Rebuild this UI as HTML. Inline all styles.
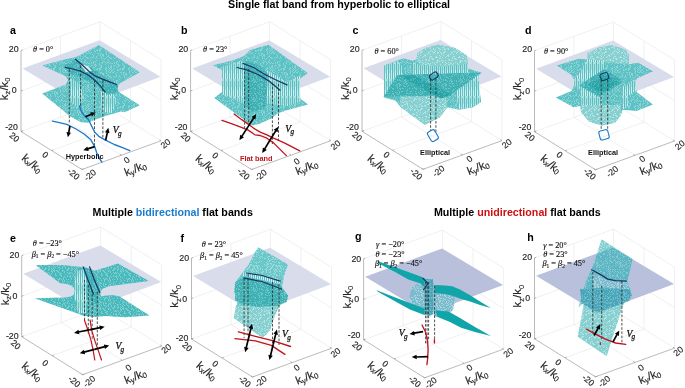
<!DOCTYPE html>
<html><head><meta charset="utf-8"><style>
html,body{margin:0;padding:0;background:#fff;}
svg{display:block;will-change:transform;}
</style></head><body>
<svg width="685" height="388" viewBox="0 0 685 388">
<defs><pattern id="ps" width="23" height="19" patternUnits="userSpaceOnUse"><rect width="23" height="19" fill="#5dc2c5"/><path fill="#8dd3d4" d="M0 0h2v1h-2zM4 0h1v1h-1zM9 0h1v1h-1zM14 0h1v1h-1zM17 0h2v1h-2zM21 0h1v1h-1zM3 1h1v1h-1zM5 1h1v1h-1zM9 1h1v1h-1zM11 1h1v1h-1zM13 1h1v1h-1zM18 1h2v1h-2zM22 1h1v1h-1zM12 2h1v1h-1zM16 2h1v1h-1zM4 3h1v1h-1zM10 3h1v1h-1zM16 3h1v1h-1zM21 3h1v1h-1zM1 4h2v1h-2zM11 4h2v1h-2zM15 4h1v1h-1zM1 5h1v1h-1zM3 5h1v1h-1zM9 5h2v1h-2zM13 5h1v1h-1zM15 5h2v1h-2zM18 5h1v1h-1zM22 5h1v1h-1zM1 6h1v1h-1zM7 6h1v1h-1zM10 6h1v1h-1zM14 6h1v1h-1zM17 6h1v1h-1zM19 6h2v1h-2zM22 6h1v1h-1zM2 7h2v1h-2zM7 7h1v1h-1zM13 7h1v1h-1zM0 8h1v1h-1zM3 8h2v1h-2zM8 8h2v1h-2zM16 8h1v1h-1zM19 8h1v1h-1zM22 8h1v1h-1zM3 9h1v1h-1zM9 9h1v1h-1zM18 9h2v1h-2zM21 9h1v1h-1zM1 10h2v1h-2zM8 10h2v1h-2zM14 10h1v1h-1zM16 10h1v1h-1zM18 10h2v1h-2zM5 11h1v1h-1zM7 11h2v1h-2zM13 11h2v1h-2zM17 11h1v1h-1zM19 11h1v1h-1zM22 11h1v1h-1zM2 12h1v1h-1zM4 12h2v1h-2zM7 12h2v1h-2zM13 12h1v1h-1zM16 12h1v1h-1zM18 12h1v1h-1zM21 12h1v1h-1zM2 13h2v1h-2zM7 13h1v1h-1zM14 13h1v1h-1zM17 13h1v1h-1zM19 13h2v1h-2zM14 14h1v1h-1zM16 14h1v1h-1zM19 14h1v1h-1zM22 14h1v1h-1zM2 15h1v1h-1zM5 15h2v1h-2zM8 15h2v1h-2zM14 15h1v1h-1zM17 15h2v1h-2zM20 15h2v1h-2zM0 16h1v1h-1zM8 16h1v1h-1zM10 16h2v1h-2zM14 16h1v1h-1zM1 17h1v1h-1zM6 17h1v1h-1zM8 17h1v1h-1zM10 17h2v1h-2zM16 17h1v1h-1zM1 18h1v1h-1zM4 18h1v1h-1zM9 18h1v1h-1zM11 18h1v1h-1zM15 18h2v1h-2z"/></pattern><pattern id="pv" width="4" height="17" patternUnits="userSpaceOnUse"><rect width="4" height="17" fill="#aee0e0"/><rect x="0" width="1" height="17" fill="#52bec1"/><rect x="2" width="1" height="11" fill="#63c5c7"/><rect x="2" y="13" width="1" height="4" fill="#63c5c7"/><rect x="1" y="5" width="1" height="6" fill="#d4eeee"/><rect x="3" y="2" width="1" height="9" fill="#d0ecec"/></pattern><pattern id="pd" width="23" height="19" patternUnits="userSpaceOnUse"><rect width="23" height="19" fill="#29a4a8"/><path fill="#4fb6b9" d="M2 0h1v1h-1zM11 0h1v1h-1zM20 0h1v1h-1zM6 1h1v1h-1zM8 1h1v1h-1zM12 1h2v1h-2zM0 2h2v1h-2zM21 2h2v1h-2zM10 3h1v1h-1zM14 3h2v1h-2zM19 3h2v1h-2zM22 3h1v1h-1zM3 4h1v1h-1zM7 4h2v1h-2zM12 4h1v1h-1zM14 4h1v1h-1zM16 4h2v1h-2zM19 4h2v1h-2zM22 4h1v1h-1zM1 5h1v1h-1zM5 5h2v1h-2zM8 5h1v1h-1zM13 5h1v1h-1zM15 5h1v1h-1zM4 6h1v1h-1zM7 6h1v1h-1zM11 6h2v1h-2zM17 6h1v1h-1zM19 6h1v1h-1zM21 6h1v1h-1zM0 7h1v1h-1zM16 7h1v1h-1zM19 7h2v1h-2zM0 8h1v1h-1zM3 8h1v1h-1zM8 8h2v1h-2zM16 8h1v1h-1zM19 8h1v1h-1zM6 9h1v1h-1zM8 9h1v1h-1zM12 9h1v1h-1zM16 9h1v1h-1zM18 9h1v1h-1zM22 9h1v1h-1zM0 10h1v1h-1zM6 10h1v1h-1zM8 10h2v1h-2zM14 10h1v1h-1zM15 11h1v1h-1zM18 11h1v1h-1zM20 11h1v1h-1zM2 12h1v1h-1zM9 12h1v1h-1zM13 12h1v1h-1zM1 13h1v1h-1zM3 13h1v1h-1zM6 13h1v1h-1zM3 14h1v1h-1zM9 14h2v1h-2zM16 14h2v1h-2zM20 14h2v1h-2zM1 15h2v1h-2zM4 15h1v1h-1zM10 15h2v1h-2zM13 15h1v1h-1zM1 16h1v1h-1zM4 16h2v1h-2zM12 16h1v1h-1zM17 16h1v1h-1zM7 17h2v1h-2zM16 17h1v1h-1zM6 18h2v1h-2zM12 18h1v1h-1zM14 18h1v1h-1z"/></pattern><pattern id="pl" width="23" height="19" patternUnits="userSpaceOnUse"><rect width="23" height="19" fill="#86d0d1"/><path fill="#b7e3e3" d="M0 0h1v1h-1zM5 0h1v1h-1zM8 0h1v1h-1zM15 0h1v1h-1zM21 0h2v1h-2zM2 1h2v1h-2zM15 1h1v1h-1zM17 1h2v1h-2zM11 2h2v1h-2zM18 2h2v1h-2zM0 3h2v1h-2zM4 3h2v1h-2zM8 3h1v1h-1zM12 3h1v1h-1zM14 3h2v1h-2zM0 4h1v1h-1zM2 4h1v1h-1zM6 4h1v1h-1zM0 5h1v1h-1zM5 5h1v1h-1zM8 5h1v1h-1zM11 5h1v1h-1zM18 5h1v1h-1zM22 5h1v1h-1zM9 6h1v1h-1zM13 6h2v1h-2zM16 6h1v1h-1zM20 6h1v1h-1zM3 7h1v1h-1zM8 7h1v1h-1zM11 7h2v1h-2zM15 7h1v1h-1zM21 7h1v1h-1zM7 8h1v1h-1zM15 8h2v1h-2zM0 9h1v1h-1zM5 9h2v1h-2zM13 9h2v1h-2zM16 9h1v1h-1zM1 10h2v1h-2zM7 10h1v1h-1zM10 10h2v1h-2zM16 10h1v1h-1zM19 10h1v1h-1zM3 11h1v1h-1zM5 11h1v1h-1zM7 11h2v1h-2zM11 11h1v1h-1zM19 11h1v1h-1zM21 11h1v1h-1zM2 12h1v1h-1zM17 12h1v1h-1zM20 12h1v1h-1zM7 13h2v1h-2zM16 13h1v1h-1zM18 13h1v1h-1zM21 13h1v1h-1zM0 14h2v1h-2zM3 14h1v1h-1zM6 14h2v1h-2zM14 14h2v1h-2zM19 14h2v1h-2zM0 15h1v1h-1zM4 15h1v1h-1zM6 15h1v1h-1zM14 15h1v1h-1zM19 15h1v1h-1zM4 16h1v1h-1zM11 16h1v1h-1zM13 16h1v1h-1zM16 16h1v1h-1zM2 17h1v1h-1zM6 17h1v1h-1zM10 17h2v1h-2zM3 18h1v1h-1zM9 18h1v1h-1zM11 18h1v1h-1zM16 18h2v1h-2zM22 18h1v1h-1z"/></pattern><pattern id="pm" width="23" height="19" patternUnits="userSpaceOnUse"><rect width="23" height="19" fill="#3fb0b4"/><path fill="#6cc5c7" d="M0 0h1v1h-1zM3 0h1v1h-1zM9 0h1v1h-1zM12 0h1v1h-1zM14 0h2v1h-2zM20 0h1v1h-1zM3 1h1v1h-1zM7 1h1v1h-1zM9 1h2v1h-2zM0 2h1v1h-1zM3 2h1v1h-1zM11 2h1v1h-1zM13 2h1v1h-1zM21 2h1v1h-1zM0 3h2v1h-2zM4 3h1v1h-1zM6 3h1v1h-1zM8 3h1v1h-1zM14 3h1v1h-1zM0 4h1v1h-1zM2 4h1v1h-1zM6 4h1v1h-1zM8 4h2v1h-2zM13 4h2v1h-2zM17 4h1v1h-1zM19 4h1v1h-1zM22 4h1v1h-1zM1 5h2v1h-2zM4 5h1v1h-1zM10 5h1v1h-1zM12 5h1v1h-1zM14 5h2v1h-2zM19 5h1v1h-1zM21 5h1v1h-1zM0 6h2v1h-2zM3 6h1v1h-1zM14 6h1v1h-1zM7 7h2v1h-2zM12 7h2v1h-2zM15 7h2v1h-2zM19 7h1v1h-1zM2 8h1v1h-1zM5 8h2v1h-2zM8 8h2v1h-2zM15 8h1v1h-1zM22 8h1v1h-1zM4 9h1v1h-1zM8 9h2v1h-2zM12 9h1v1h-1zM17 9h1v1h-1zM20 9h1v1h-1zM5 10h2v1h-2zM8 10h1v1h-1zM13 10h2v1h-2zM16 10h1v1h-1zM0 11h1v1h-1zM6 11h1v1h-1zM1 12h2v1h-2zM6 12h1v1h-1zM8 12h2v1h-2zM11 12h2v1h-2zM18 12h1v1h-1zM21 12h1v1h-1zM2 13h1v1h-1zM9 13h1v1h-1zM16 13h1v1h-1zM6 14h1v1h-1zM16 14h1v1h-1zM1 15h1v1h-1zM8 15h1v1h-1zM10 15h2v1h-2zM15 15h1v1h-1zM19 15h2v1h-2zM4 16h1v1h-1zM6 16h1v1h-1zM8 16h1v1h-1zM1 17h2v1h-2zM5 17h1v1h-1zM8 17h1v1h-1zM15 17h2v1h-2zM18 17h2v1h-2zM21 17h1v1h-1zM2 18h1v1h-1zM6 18h2v1h-2zM17 18h1v1h-1z"/></pattern><pattern id="pb" width="23" height="19" patternUnits="userSpaceOnUse"><rect width="23" height="19" fill="#78bccd"/><path fill="#aed3df" d="M6 0h1v1h-1zM11 0h1v1h-1zM13 0h1v1h-1zM16 0h1v1h-1zM18 0h2v1h-2zM22 0h1v1h-1zM0 1h1v1h-1zM2 1h1v1h-1zM5 1h1v1h-1zM9 1h2v1h-2zM14 1h2v1h-2zM20 1h1v1h-1zM22 1h1v1h-1zM0 2h1v1h-1zM3 2h1v1h-1zM12 2h2v1h-2zM15 2h2v1h-2zM19 2h2v1h-2zM1 3h1v1h-1zM3 3h2v1h-2zM6 3h2v1h-2zM15 3h2v1h-2zM20 3h2v1h-2zM0 4h1v1h-1zM9 4h1v1h-1zM11 4h1v1h-1zM14 4h1v1h-1zM19 4h1v1h-1zM1 5h2v1h-2zM4 5h1v1h-1zM7 5h2v1h-2zM13 5h1v1h-1zM15 5h2v1h-2zM18 5h1v1h-1zM4 6h1v1h-1zM6 6h1v1h-1zM13 6h1v1h-1zM2 7h1v1h-1zM6 7h2v1h-2zM11 7h1v1h-1zM13 7h1v1h-1zM8 8h2v1h-2zM16 8h2v1h-2zM3 9h1v1h-1zM7 9h1v1h-1zM10 9h1v1h-1zM12 9h1v1h-1zM14 9h1v1h-1zM16 9h1v1h-1zM18 9h1v1h-1zM0 10h2v1h-2zM3 10h1v1h-1zM5 10h1v1h-1zM7 10h2v1h-2zM11 10h1v1h-1zM13 10h1v1h-1zM0 11h1v1h-1zM8 11h1v1h-1zM12 11h1v1h-1zM17 11h1v1h-1zM1 12h2v1h-2zM9 12h1v1h-1zM11 12h1v1h-1zM14 12h2v1h-2zM18 12h1v1h-1zM20 12h2v1h-2zM1 13h1v1h-1zM3 13h2v1h-2zM6 13h1v1h-1zM12 13h2v1h-2zM18 13h1v1h-1zM1 14h1v1h-1zM7 14h2v1h-2zM19 14h1v1h-1zM22 14h1v1h-1zM2 15h2v1h-2zM6 15h1v1h-1zM11 15h1v1h-1zM14 15h1v1h-1zM19 15h2v1h-2zM2 16h2v1h-2zM5 16h1v1h-1zM9 16h1v1h-1zM12 16h1v1h-1zM15 16h1v1h-1zM17 16h1v1h-1zM20 16h1v1h-1zM2 17h1v1h-1zM9 17h1v1h-1zM11 17h1v1h-1zM17 17h1v1h-1zM19 17h2v1h-2zM0 18h1v1h-1zM4 18h2v1h-2zM8 18h1v1h-1zM10 18h1v1h-1zM13 18h2v1h-2zM19 18h2v1h-2zM22 18h1v1h-1z"/></pattern><pattern id="pbd" width="23" height="19" patternUnits="userSpaceOnUse"><rect width="23" height="19" fill="#4aa6ba"/><path fill="#76bccb" d="M4 0h1v1h-1zM16 0h1v1h-1zM1 1h2v1h-2zM6 1h1v1h-1zM12 1h1v1h-1zM22 1h1v1h-1zM3 2h2v1h-2zM7 2h1v1h-1zM10 2h1v1h-1zM12 2h1v1h-1zM16 2h2v1h-2zM19 2h1v1h-1zM3 3h2v1h-2zM6 3h1v1h-1zM11 3h2v1h-2zM1 4h2v1h-2zM7 4h1v1h-1zM9 4h1v1h-1zM12 4h1v1h-1zM15 4h1v1h-1zM22 4h1v1h-1zM14 5h1v1h-1zM16 5h1v1h-1zM19 5h2v1h-2zM2 6h1v1h-1zM11 6h1v1h-1zM13 6h1v1h-1zM16 6h1v1h-1zM18 6h1v1h-1zM2 7h2v1h-2zM5 7h1v1h-1zM13 7h2v1h-2zM22 7h1v1h-1zM3 8h2v1h-2zM10 8h1v1h-1zM15 8h1v1h-1zM18 8h2v1h-2zM2 9h2v1h-2zM5 9h1v1h-1zM9 9h1v1h-1zM12 9h1v1h-1zM14 9h1v1h-1zM16 9h1v1h-1zM19 9h1v1h-1zM1 10h1v1h-1zM3 10h1v1h-1zM7 10h1v1h-1zM21 10h1v1h-1zM1 11h1v1h-1zM4 11h2v1h-2zM7 11h1v1h-1zM9 11h1v1h-1zM12 11h1v1h-1zM19 11h1v1h-1zM21 11h1v1h-1zM1 12h2v1h-2zM10 12h2v1h-2zM15 12h1v1h-1zM17 12h2v1h-2zM2 13h1v1h-1zM4 13h1v1h-1zM6 13h2v1h-2zM9 13h2v1h-2zM15 13h1v1h-1zM17 13h1v1h-1zM19 13h2v1h-2zM22 13h1v1h-1zM1 14h1v1h-1zM3 14h2v1h-2zM12 14h2v1h-2zM15 14h1v1h-1zM22 14h1v1h-1zM8 15h2v1h-2zM14 15h1v1h-1zM19 15h1v1h-1zM21 15h1v1h-1zM2 16h1v1h-1zM4 16h2v1h-2zM20 16h1v1h-1zM22 16h1v1h-1zM1 17h1v1h-1zM3 17h1v1h-1zM6 17h2v1h-2zM10 17h1v1h-1zM12 17h2v1h-2zM16 17h1v1h-1zM22 17h1v1h-1zM8 18h2v1h-2zM11 18h2v1h-2zM15 18h1v1h-1zM20 18h2v1h-2z"/></pattern><pattern id="pho" width="23" height="19" patternUnits="userSpaceOnUse"><rect width="23" height="19" fill="#5db6c4"/><path fill="#86c8d2" d="M1 0h1v1h-1zM3 0h1v1h-1zM6 0h1v1h-1zM8 0h1v1h-1zM10 0h1v1h-1zM14 0h1v1h-1zM21 0h2v1h-2zM1 1h1v1h-1zM5 1h1v1h-1zM10 1h1v1h-1zM12 1h1v1h-1zM21 1h1v1h-1zM5 2h1v1h-1zM8 2h1v1h-1zM10 2h1v1h-1zM1 3h2v1h-2zM10 3h1v1h-1zM12 3h1v1h-1zM14 3h2v1h-2zM17 3h1v1h-1zM21 3h1v1h-1zM9 4h1v1h-1zM11 4h1v1h-1zM16 4h1v1h-1zM2 5h2v1h-2zM10 5h1v1h-1zM12 5h1v1h-1zM14 5h1v1h-1zM17 5h1v1h-1zM19 5h1v1h-1zM22 5h1v1h-1zM1 6h1v1h-1zM5 6h2v1h-2zM11 6h1v1h-1zM16 6h1v1h-1zM20 6h1v1h-1zM22 6h1v1h-1zM5 7h2v1h-2zM11 7h2v1h-2zM19 7h1v1h-1zM22 7h1v1h-1zM1 8h1v1h-1zM9 8h1v1h-1zM11 8h1v1h-1zM19 8h1v1h-1zM2 9h2v1h-2zM12 9h1v1h-1zM14 9h2v1h-2zM18 9h2v1h-2zM2 10h1v1h-1zM11 10h1v1h-1zM14 10h1v1h-1zM16 10h1v1h-1zM18 10h2v1h-2zM7 11h1v1h-1zM9 11h1v1h-1zM12 11h1v1h-1zM20 11h1v1h-1zM22 11h1v1h-1zM17 12h1v1h-1zM21 12h1v1h-1zM1 13h1v1h-1zM3 13h1v1h-1zM7 13h2v1h-2zM11 13h2v1h-2zM15 13h2v1h-2zM22 13h1v1h-1zM2 14h1v1h-1zM5 14h1v1h-1zM8 14h1v1h-1zM12 14h2v1h-2zM17 14h1v1h-1zM19 14h2v1h-2zM0 15h1v1h-1zM4 15h1v1h-1zM9 15h1v1h-1zM13 15h2v1h-2zM18 15h2v1h-2zM21 15h2v1h-2zM5 16h1v1h-1zM7 16h1v1h-1zM9 16h1v1h-1zM11 16h1v1h-1zM17 16h1v1h-1zM19 16h1v1h-1zM21 16h2v1h-2zM1 17h1v1h-1zM4 17h2v1h-2zM20 17h1v1h-1zM22 17h1v1h-1zM0 18h1v1h-1zM2 18h2v1h-2zM8 18h1v1h-1zM11 18h1v1h-1zM17 18h2v1h-2zM22 18h1v1h-1z"/></pattern><pattern id="psl" width="23" height="19" patternUnits="userSpaceOnUse"><rect width="23" height="19" fill="#6bc8ca"/><path fill="#9fdadb" d="M0 0h2v1h-2zM3 0h2v1h-2zM6 0h1v1h-1zM9 0h1v1h-1zM14 0h2v1h-2zM17 0h1v1h-1zM19 0h1v1h-1zM1 1h1v1h-1zM4 1h1v1h-1zM14 1h1v1h-1zM18 1h2v1h-2zM1 2h1v1h-1zM4 2h2v1h-2zM7 2h1v1h-1zM13 2h1v1h-1zM17 2h2v1h-2zM22 2h1v1h-1zM0 3h1v1h-1zM2 3h1v1h-1zM7 3h1v1h-1zM9 3h1v1h-1zM12 3h2v1h-2zM16 3h2v1h-2zM20 3h1v1h-1zM22 3h1v1h-1zM3 4h1v1h-1zM5 4h1v1h-1zM13 4h1v1h-1zM15 4h1v1h-1zM21 4h2v1h-2zM0 5h2v1h-2zM3 5h2v1h-2zM9 5h2v1h-2zM13 5h1v1h-1zM17 5h1v1h-1zM21 5h1v1h-1zM5 6h1v1h-1zM8 6h2v1h-2zM13 6h1v1h-1zM16 6h2v1h-2zM22 6h1v1h-1zM3 7h1v1h-1zM9 7h1v1h-1zM20 7h2v1h-2zM0 8h1v1h-1zM5 8h1v1h-1zM18 8h1v1h-1zM21 8h1v1h-1zM0 9h2v1h-2zM3 9h1v1h-1zM7 9h2v1h-2zM15 9h2v1h-2zM6 10h1v1h-1zM9 10h1v1h-1zM14 10h1v1h-1zM19 10h2v1h-2zM7 11h1v1h-1zM11 11h2v1h-2zM15 11h1v1h-1zM20 11h1v1h-1zM22 11h1v1h-1zM1 12h1v1h-1zM15 12h1v1h-1zM18 12h2v1h-2zM21 12h2v1h-2zM16 13h2v1h-2zM0 14h1v1h-1zM6 14h1v1h-1zM8 14h1v1h-1zM14 14h1v1h-1zM16 14h1v1h-1zM19 14h2v1h-2zM2 15h2v1h-2zM5 15h1v1h-1zM13 15h1v1h-1zM21 15h1v1h-1zM3 16h1v1h-1zM14 16h2v1h-2zM17 16h2v1h-2zM11 17h1v1h-1zM14 17h2v1h-2zM18 17h1v1h-1zM20 17h2v1h-2zM0 18h1v1h-1zM2 18h2v1h-2zM5 18h1v1h-1zM12 18h2v1h-2zM19 18h2v1h-2zM22 18h1v1h-1z"/></pattern><pattern id="pse" width="23" height="19" patternUnits="userSpaceOnUse"><rect width="23" height="19" fill="#48b9bc"/><path fill="#80cdce" d="M2 0h2v1h-2zM5 0h1v1h-1zM8 0h1v1h-1zM11 0h1v1h-1zM16 0h1v1h-1zM18 0h1v1h-1zM2 1h1v1h-1zM7 1h1v1h-1zM9 1h1v1h-1zM12 1h2v1h-2zM16 1h1v1h-1zM19 1h1v1h-1zM22 1h1v1h-1zM0 2h1v1h-1zM3 2h1v1h-1zM5 2h1v1h-1zM7 2h1v1h-1zM14 2h1v1h-1zM16 2h1v1h-1zM19 2h1v1h-1zM22 2h1v1h-1zM2 3h2v1h-2zM6 3h1v1h-1zM8 3h1v1h-1zM13 3h1v1h-1zM21 3h2v1h-2zM2 4h1v1h-1zM5 4h1v1h-1zM7 4h2v1h-2zM10 4h2v1h-2zM16 4h2v1h-2zM20 4h2v1h-2zM5 5h2v1h-2zM8 5h1v1h-1zM11 5h2v1h-2zM16 5h1v1h-1zM18 5h1v1h-1zM0 6h1v1h-1zM2 6h1v1h-1zM6 6h1v1h-1zM12 6h2v1h-2zM18 6h1v1h-1zM21 6h1v1h-1zM0 7h2v1h-2zM3 7h1v1h-1zM5 7h1v1h-1zM9 7h1v1h-1zM14 7h2v1h-2zM22 7h1v1h-1zM4 8h1v1h-1zM9 8h1v1h-1zM13 8h2v1h-2zM19 8h1v1h-1zM1 9h1v1h-1zM4 9h1v1h-1zM9 9h2v1h-2zM14 9h2v1h-2zM21 9h1v1h-1zM0 10h2v1h-2zM3 10h1v1h-1zM5 10h1v1h-1zM15 10h1v1h-1zM18 10h1v1h-1zM21 10h1v1h-1zM1 11h1v1h-1zM5 11h1v1h-1zM7 11h1v1h-1zM17 11h1v1h-1zM19 11h1v1h-1zM2 12h1v1h-1zM8 12h1v1h-1zM11 12h1v1h-1zM13 12h2v1h-2zM17 12h1v1h-1zM2 13h1v1h-1zM5 13h1v1h-1zM12 13h2v1h-2zM15 13h1v1h-1zM17 13h1v1h-1zM20 13h1v1h-1zM22 13h1v1h-1zM6 14h1v1h-1zM9 14h1v1h-1zM12 14h1v1h-1zM16 14h1v1h-1zM18 14h1v1h-1zM1 15h1v1h-1zM5 15h1v1h-1zM12 15h1v1h-1zM16 15h1v1h-1zM18 15h1v1h-1zM21 15h1v1h-1zM7 16h2v1h-2zM17 16h1v1h-1zM22 16h1v1h-1zM4 17h1v1h-1zM8 17h2v1h-2zM11 17h1v1h-1zM13 17h1v1h-1zM19 17h1v1h-1zM21 17h1v1h-1zM0 18h1v1h-1zM7 18h1v1h-1zM11 18h1v1h-1zM13 18h2v1h-2zM17 18h2v1h-2zM21 18h1v1h-1z"/></pattern></defs>
<text x="228" y="7.9" font-family="Liberation Sans, sans-serif" font-weight="bold" font-size="10.7" fill="#000">Single flat band from hyperbolic to elliptical</text>
<text x="92.5" y="216.2" font-family="Liberation Sans, sans-serif" font-weight="bold" font-size="10.7" fill="#000">Multiple <tspan fill="#1a7ccc">bidirectional</tspan> flat bands</text>
<text x="433.9" y="216.2" font-family="Liberation Sans, sans-serif" font-weight="bold" font-size="10.7" fill="#000">Multiple <tspan fill="#cc1111">unidirectional</tspan> flat bands</text>
<g id="pa">
<line x1="21.0" y1="50.5" x2="100.0" y2="21.8" stroke="#e6e6ec" stroke-width="0.6" />
<line x1="21.0" y1="91.0" x2="100.0" y2="62.3" stroke="#e6e6ec" stroke-width="0.6" />
<line x1="60.5" y1="117.2" x2="60.5" y2="36.2" stroke="#e6e6ec" stroke-width="0.6" />
<line x1="100.0" y1="102.8" x2="100.0" y2="21.8" stroke="#e6e6ec" stroke-width="0.6" />
<line x1="100.0" y1="21.8" x2="161.0" y2="59.8" stroke="#e6e6ec" stroke-width="0.6" />
<line x1="100.0" y1="62.3" x2="161.0" y2="100.3" stroke="#e6e6ec" stroke-width="0.6" />
<line x1="130.5" y1="121.8" x2="130.5" y2="40.8" stroke="#e6e6ec" stroke-width="0.6" />
<line x1="161.0" y1="140.8" x2="161.0" y2="59.8" stroke="#e6e6ec" stroke-width="0.6" />
<line x1="100.0" y1="102.8" x2="161.0" y2="140.8" stroke="#e6e6ec" stroke-width="0.6" />
<line x1="100.0" y1="102.8" x2="21.0" y2="131.5" stroke="#e6e6ec" stroke-width="0.6" />
<line x1="51.5" y1="150.5" x2="130.5" y2="121.8" stroke="#e6e6ec" stroke-width="0.6" />
<line x1="60.5" y1="117.2" x2="121.5" y2="155.2" stroke="#e6e6ec" stroke-width="0.6" />
<line x1="21.0" y1="131.5" x2="22.7" y2="130.9" stroke="#8c8c8c" stroke-width="0.6" />
<line x1="21.0" y1="91.0" x2="22.7" y2="90.4" stroke="#8c8c8c" stroke-width="0.6" />
<line x1="21.0" y1="50.5" x2="22.7" y2="49.9" stroke="#8c8c8c" stroke-width="0.6" />
<line x1="82.0" y1="169.5" x2="83.7" y2="168.9" stroke="#8c8c8c" stroke-width="0.6" />
<line x1="51.5" y1="150.5" x2="53.2" y2="149.9" stroke="#8c8c8c" stroke-width="0.6" />
<line x1="21.0" y1="131.5" x2="22.7" y2="130.9" stroke="#8c8c8c" stroke-width="0.6" />
<line x1="82.0" y1="169.5" x2="80.5" y2="168.5" stroke="#8c8c8c" stroke-width="0.6" />
<line x1="121.5" y1="155.2" x2="120.0" y2="154.2" stroke="#8c8c8c" stroke-width="0.6" />
<line x1="161.0" y1="140.8" x2="159.5" y2="139.8" stroke="#8c8c8c" stroke-width="0.6" />
<line x1="21.0" y1="131.5" x2="21.0" y2="50.5" stroke="#8c8c8c" stroke-width="0.6" />
<line x1="21.0" y1="131.5" x2="82.0" y2="169.5" stroke="#8c8c8c" stroke-width="0.6" />
<line x1="82.0" y1="169.5" x2="161.0" y2="140.8" stroke="#8c8c8c" stroke-width="0.6" />
<polygon points="22.6,68.5 99.5,40.2 160.5,76.8 84.0,105.5" fill="#d9dcea" />
<polygon points="42.2,65.4 65.4,59.3 76.0,57.0 99.0,45.0 139.8,72.3 120.0,83.2 117.0,88.0 117.8,91.3 139.8,105.2 124.8,112.2 120.8,111.5 106.3,115.7 95.5,119.4 88.0,122.8 81.1,122.2 70.3,116.6 42.2,93.6 65.8,84.4 68.0,80.0 65.8,76.2" fill="url(#ps)" />
<polygon points="70.0,78.0 80.0,84.0 84.0,98.0 78.0,108.0 70.0,100.0" fill="url(#pv)" />
<polygon points="100.0,92.0 112.0,92.0 117.0,100.0 112.0,113.0 102.0,112.0" fill="url(#pv)" />
<polygon points="64.0,66.0 75.0,59.0 92.0,68.0 105.0,77.0 118.0,85.0 118.0,92.0 108.0,95.0 96.0,86.0 82.0,78.0 70.0,74.0" fill="url(#pm)" />
<polygon points="80.0,64.0 88.0,66.0 92.0,71.0 86.0,72.0" fill="#d8eeee" />
<polyline points="65.1,67.4 72.9,69.0 80.6,71.2 88.3,75.1 94.7,80.2 99.9,85.4 105.0,91.8" fill="none" stroke="#1d3566" stroke-width="1.25" stroke-linejoin="round" stroke-linecap="round" />
<polyline points="75.4,59.3 81.9,64.8 89.6,71.9 96.0,76.4 103.8,79.6 110.2,82.2 116.6,84.5" fill="none" stroke="#1d3566" stroke-width="1.25" stroke-linejoin="round" stroke-linecap="round" />
<line x1="69.3" y1="69.3" x2="69.3" y2="124.0" stroke="#303030" stroke-width="0.85" stroke-dasharray="2.6 1.6"/>
<line x1="80.6" y1="65.4" x2="80.6" y2="108.0" stroke="#303030" stroke-width="0.85" stroke-dasharray="2.6 1.6"/>
<line x1="94.5" y1="80.2" x2="94.5" y2="146.0" stroke="#303030" stroke-width="0.85" stroke-dasharray="2.6 1.6"/>
<line x1="102.9" y1="80.2" x2="102.9" y2="138.0" stroke="#303030" stroke-width="0.85" stroke-dasharray="2.6 1.6"/>
<polyline points="52.4,121.2 60.6,122.9 66.8,124.3 76.1,129.0 84.4,134.2 90.6,139.4 94.7,146.6 96.7,152.8 99.8,159.0 101.9,162.1" fill="none" stroke="#1f78c8" stroke-width="1.35" stroke-linejoin="round" stroke-linecap="round" />
<polyline points="79.6,106.0 81.3,111.5 84.4,115.6 88.5,119.8 91.6,126.0 94.7,132.1 98.8,136.3 106.0,140.4 114.3,144.5 122.5,147.6 129.8,150.7" fill="none" stroke="#1f78c8" stroke-width="1.35" stroke-linejoin="round" stroke-linecap="round" />
<line x1="69.9" y1="126.0" x2="68.7" y2="132.9" stroke="#000" stroke-width="1.7" /><polygon points="67.9,137.3 66.5,132.0 71.0,132.8" fill="#000" />
<line x1="85.4" y1="116.7" x2="91.5" y2="114.2" stroke="#000" stroke-width="1.7" /><polygon points="95.7,112.5 91.9,116.5 90.2,112.3" fill="#000" />
<line x1="94.7" y1="146.6" x2="87.6" y2="148.9" stroke="#000" stroke-width="1.7" /><polygon points="83.3,150.3 87.3,146.6 88.8,150.9" fill="#000" />
<line x1="105.6" y1="140.4" x2="107.4" y2="132.2" stroke="#000" stroke-width="1.7" /><polygon points="108.3,127.8 109.5,133.2 105.0,132.2" fill="#000" />
<text x="112.8" y="133.2" font-family="Liberation Serif, serif" font-style="italic" font-size="9.6" fill="#111" stroke="#111" stroke-width="0.25">V<tspan font-size="7.2" dx="-0.8" dy="2.4">g</tspan></text>
<text x="65.7" y="159" transform="translate(65.7 159) scale(0.93 1) translate(-65.7 -159)" font-family="Liberation Sans, sans-serif" font-weight="bold" font-size="7.9" fill="#111">Hyperbolic</text>
<text x="33" y="52.3" transform="translate(33 52.3) scale(0.92 1) translate(-33 -52.3)" font-family="Liberation Serif, serif" font-size="9" fill="#111" stroke="#111" stroke-width="0.15"><tspan font-style="italic">θ</tspan> = 0°</text>
<text x="18.6" y="52.2" text-anchor="end" fill="#262626" stroke="#262626" stroke-width="0.15" font-family="Liberation Sans, sans-serif" font-size="8.8">20</text>
<text x="16.6" y="93.4" text-anchor="end" fill="#262626" stroke="#262626" stroke-width="0.15" font-family="Liberation Sans, sans-serif" font-size="8.8">0</text>
<text x="17.9" y="130.2" text-anchor="end" fill="#262626" stroke="#262626" stroke-width="0.15" font-family="Liberation Sans, sans-serif" font-size="8.8">-20</text>
<text transform="translate(7.9,88.8) rotate(-90)" text-anchor="middle" fill="#262626" stroke="#262626" stroke-width="0.15" font-family="Liberation Sans, sans-serif" font-size="11.4">k<tspan font-size="7.7" dy="2.3">z</tspan><tspan dy="-2.3">/k</tspan><tspan font-size="7.7" dy="2.3">0</tspan></text>
<text transform="translate(14.5,137.1) rotate(40)" text-anchor="middle" dominant-baseline="central" fill="#262626" stroke="#262626" stroke-width="0.15" font-family="Liberation Sans, sans-serif" font-size="8.8">20</text>
<text transform="translate(45.3,154.8) rotate(40)" text-anchor="middle" dominant-baseline="central" fill="#262626" stroke="#262626" stroke-width="0.15" font-family="Liberation Sans, sans-serif" font-size="8.8">0</text>
<text transform="translate(73.6,173.9) rotate(40)" text-anchor="middle" dominant-baseline="central" fill="#262626" stroke="#262626" stroke-width="0.15" font-family="Liberation Sans, sans-serif" font-size="8.8">-20</text>
<text transform="translate(90.0,175.2) rotate(-40)" text-anchor="middle" dominant-baseline="central" fill="#262626" stroke="#262626" stroke-width="0.15" font-family="Liberation Sans, sans-serif" font-size="8.8">-20</text>
<text transform="translate(126.8,160.1) rotate(-40)" text-anchor="middle" dominant-baseline="central" fill="#262626" stroke="#262626" stroke-width="0.15" font-family="Liberation Sans, sans-serif" font-size="8.8">0</text>
<text transform="translate(165.5,143.6) rotate(-40)" text-anchor="middle" dominant-baseline="central" fill="#262626" stroke="#262626" stroke-width="0.15" font-family="Liberation Sans, sans-serif" font-size="8.8">20</text>
<text transform="translate(32.2,163.4) rotate(40)" text-anchor="middle" dominant-baseline="central" fill="#262626" stroke="#262626" stroke-width="0.15" font-family="Liberation Sans, sans-serif" font-size="11.4">k<tspan font-size="7.7" dy="2.3">x</tspan><tspan dy="-2.3">/k</tspan><tspan font-size="7.7" dy="2.3">0</tspan></text>
<text transform="translate(135.3,168.6) rotate(-22)" text-anchor="middle" dominant-baseline="central" fill="#262626" stroke="#262626" stroke-width="0.15" font-family="Liberation Sans, sans-serif" font-size="11.4">k<tspan font-size="7.7" dy="2.3">y</tspan><tspan dy="-2.3">/k</tspan><tspan font-size="7.7" dy="2.3">0</tspan></text>
<text x="10.1" y="33.6" font-family="Liberation Sans, sans-serif" font-weight="bold" font-size="10.7" fill="#000">a</text>
</g>
<g id="pb">
<line x1="190.6" y1="50.5" x2="269.6" y2="21.8" stroke="#e6e6ec" stroke-width="0.6" />
<line x1="190.6" y1="91.0" x2="269.6" y2="62.3" stroke="#e6e6ec" stroke-width="0.6" />
<line x1="230.1" y1="117.2" x2="230.1" y2="36.2" stroke="#e6e6ec" stroke-width="0.6" />
<line x1="269.6" y1="102.8" x2="269.6" y2="21.8" stroke="#e6e6ec" stroke-width="0.6" />
<line x1="269.6" y1="21.8" x2="330.6" y2="59.8" stroke="#e6e6ec" stroke-width="0.6" />
<line x1="269.6" y1="62.3" x2="330.6" y2="100.3" stroke="#e6e6ec" stroke-width="0.6" />
<line x1="300.1" y1="121.8" x2="300.1" y2="40.8" stroke="#e6e6ec" stroke-width="0.6" />
<line x1="330.6" y1="140.8" x2="330.6" y2="59.8" stroke="#e6e6ec" stroke-width="0.6" />
<line x1="269.6" y1="102.8" x2="330.6" y2="140.8" stroke="#e6e6ec" stroke-width="0.6" />
<line x1="269.6" y1="102.8" x2="190.6" y2="131.5" stroke="#e6e6ec" stroke-width="0.6" />
<line x1="221.1" y1="150.5" x2="300.1" y2="121.8" stroke="#e6e6ec" stroke-width="0.6" />
<line x1="230.1" y1="117.2" x2="291.1" y2="155.2" stroke="#e6e6ec" stroke-width="0.6" />
<line x1="190.6" y1="131.5" x2="192.3" y2="130.9" stroke="#8c8c8c" stroke-width="0.6" />
<line x1="190.6" y1="91.0" x2="192.3" y2="90.4" stroke="#8c8c8c" stroke-width="0.6" />
<line x1="190.6" y1="50.5" x2="192.3" y2="49.9" stroke="#8c8c8c" stroke-width="0.6" />
<line x1="251.6" y1="169.5" x2="253.3" y2="168.9" stroke="#8c8c8c" stroke-width="0.6" />
<line x1="221.1" y1="150.5" x2="222.8" y2="149.9" stroke="#8c8c8c" stroke-width="0.6" />
<line x1="190.6" y1="131.5" x2="192.3" y2="130.9" stroke="#8c8c8c" stroke-width="0.6" />
<line x1="251.6" y1="169.5" x2="250.1" y2="168.5" stroke="#8c8c8c" stroke-width="0.6" />
<line x1="291.1" y1="155.2" x2="289.6" y2="154.2" stroke="#8c8c8c" stroke-width="0.6" />
<line x1="330.6" y1="140.8" x2="329.1" y2="139.8" stroke="#8c8c8c" stroke-width="0.6" />
<line x1="190.6" y1="131.5" x2="190.6" y2="50.5" stroke="#8c8c8c" stroke-width="0.6" />
<line x1="190.6" y1="131.5" x2="251.6" y2="169.5" stroke="#8c8c8c" stroke-width="0.6" />
<line x1="251.6" y1="169.5" x2="330.6" y2="140.8" stroke="#8c8c8c" stroke-width="0.6" />
<polygon points="192.2,68.5 269.1,40.2 330.1,76.8 253.6,105.5" fill="#d9dcea" />
<polygon points="212.8,65.2 232.5,60.5 244.1,55.9 250.0,50.0 268.5,44.7 307.9,73.3 297.5,80.3 296.0,95.0 307.9,104.6 285.0,110.8 277.6,113.4 270.9,118.7 260.2,123.4 253.5,125.4 248.2,123.4 242.8,118.7 228.0,108.0 214.2,97.9 222.0,92.0 222.0,70.0" fill="url(#ps)" />
<polygon points="222.0,67.0 240.0,61.0 244.0,63.0 244.0,104.0 222.0,94.0" fill="url(#pv)" />
<polygon points="262.0,68.0 275.0,75.0 287.0,82.0 300.0,76.0 300.0,102.0 287.0,106.0 262.0,103.0" fill="url(#pv)" />
<polygon points="244.0,61.0 252.0,62.0 262.0,67.0 268.0,74.0 266.0,108.0 252.0,112.0 244.0,105.0" fill="url(#pm)" />
<polyline points="237.1,67.5 246.4,69.8 258.0,74.5 269.6,81.4 280.1,90.2" fill="none" stroke="#1d3566" stroke-width="1.25" stroke-linejoin="round" stroke-linecap="round" />
<polyline points="242.9,63.3 253.4,67.5 265.0,74.5 276.6,80.3 287.0,84.9" fill="none" stroke="#1d3566" stroke-width="1.25" stroke-linejoin="round" stroke-linecap="round" />
<line x1="244.6" y1="67.5" x2="244.6" y2="130.0" stroke="#303030" stroke-width="0.85" stroke-dasharray="2.6 1.6"/>
<line x1="248.7" y1="69.0" x2="248.7" y2="124.0" stroke="#303030" stroke-width="0.85" stroke-dasharray="2.6 1.6"/>
<line x1="272.4" y1="82.6" x2="272.4" y2="145.0" stroke="#303030" stroke-width="0.85" stroke-dasharray="2.6 1.6"/>
<line x1="278.5" y1="84.0" x2="278.5" y2="141.0" stroke="#303030" stroke-width="0.85" stroke-dasharray="2.6 1.6"/>
<polyline points="234.1,114.0 241.4,119.4 248.2,124.1 253.5,128.1 260.2,132.1 266.9,134.8 273.6,138.2 284.3,142.9 299.8,150.9" fill="none" stroke="#c0141c" stroke-width="1.3" stroke-linejoin="round" stroke-linecap="round" />
<polyline points="222.0,120.3 230.7,123.4 240.1,126.8 248.2,130.1 254.9,134.8 260.2,135.5 266.9,138.2 273.6,142.9 280.3,149.6 286.4,155.6" fill="none" stroke="#c0141c" stroke-width="1.3" stroke-linejoin="round" stroke-linecap="round" />
<line x1="247.8" y1="127.1" x2="253.8" y2="117.8" stroke="#000" stroke-width="1.7" /><polygon points="256.2,114.0 255.4,119.5 251.6,117.0" fill="#000" />
<line x1="247.8" y1="127.1" x2="241.8" y2="136.4" stroke="#000" stroke-width="1.7" /><polygon points="239.4,140.2 240.2,134.7 244.0,137.2" fill="#000" />
<line x1="270.2" y1="139.8" x2="275.9" y2="130.6" stroke="#000" stroke-width="1.7" /><polygon points="278.3,126.8 277.6,132.3 273.7,129.8" fill="#000" />
<line x1="270.2" y1="139.8" x2="264.6" y2="149.1" stroke="#000" stroke-width="1.7" /><polygon points="262.2,152.9 262.9,147.4 266.8,149.9" fill="#000" />
<text x="285.3" y="131.9" font-family="Liberation Serif, serif" font-style="italic" font-size="9.6" fill="#111" stroke="#111" stroke-width="0.25">V<tspan font-size="7.2" dx="-0.8" dy="2.4">g</tspan></text>
<text x="240" y="160.8" transform="translate(240 160.8) scale(0.93 1) translate(-240 -160.8)" font-family="Liberation Sans, sans-serif" font-weight="bold" font-size="7.9" fill="#c0141c">Flat band</text>
<text x="203" y="52.3" transform="translate(203 52.3) scale(0.92 1) translate(-203 -52.3)" font-family="Liberation Serif, serif" font-size="9" fill="#111" stroke="#111" stroke-width="0.15"><tspan font-style="italic">θ</tspan> = 23°</text>
<text x="188.2" y="52.2" text-anchor="end" fill="#262626" stroke="#262626" stroke-width="0.15" font-family="Liberation Sans, sans-serif" font-size="8.8">20</text>
<text x="186.2" y="93.4" text-anchor="end" fill="#262626" stroke="#262626" stroke-width="0.15" font-family="Liberation Sans, sans-serif" font-size="8.8">0</text>
<text x="187.5" y="130.2" text-anchor="end" fill="#262626" stroke="#262626" stroke-width="0.15" font-family="Liberation Sans, sans-serif" font-size="8.8">-20</text>
<text transform="translate(177.5,88.8) rotate(-90)" text-anchor="middle" fill="#262626" stroke="#262626" stroke-width="0.15" font-family="Liberation Sans, sans-serif" font-size="11.4">k<tspan font-size="7.7" dy="2.3">z</tspan><tspan dy="-2.3">/k</tspan><tspan font-size="7.7" dy="2.3">0</tspan></text>
<text transform="translate(185.8,137.1) rotate(40)" text-anchor="middle" dominant-baseline="central" fill="#262626" stroke="#262626" stroke-width="0.15" font-family="Liberation Sans, sans-serif" font-size="8.8">20</text>
<text transform="translate(215.3,155.5) rotate(40)" text-anchor="middle" dominant-baseline="central" fill="#262626" stroke="#262626" stroke-width="0.15" font-family="Liberation Sans, sans-serif" font-size="8.8">0</text>
<text transform="translate(243.6,173.9) rotate(40)" text-anchor="middle" dominant-baseline="central" fill="#262626" stroke="#262626" stroke-width="0.15" font-family="Liberation Sans, sans-serif" font-size="8.8">-20</text>
<text transform="translate(260.6,175.2) rotate(-40)" text-anchor="middle" dominant-baseline="central" fill="#262626" stroke="#262626" stroke-width="0.15" font-family="Liberation Sans, sans-serif" font-size="8.8">-20</text>
<text transform="translate(296.8,161.4) rotate(-40)" text-anchor="middle" dominant-baseline="central" fill="#262626" stroke="#262626" stroke-width="0.15" font-family="Liberation Sans, sans-serif" font-size="8.8">0</text>
<text transform="translate(335.5,145.0) rotate(-40)" text-anchor="middle" dominant-baseline="central" fill="#262626" stroke="#262626" stroke-width="0.15" font-family="Liberation Sans, sans-serif" font-size="8.8">20</text>
<text transform="translate(206.1,164.0) rotate(40)" text-anchor="middle" dominant-baseline="central" fill="#262626" stroke="#262626" stroke-width="0.15" font-family="Liberation Sans, sans-serif" font-size="11.4">k<tspan font-size="7.7" dy="2.3">x</tspan><tspan dy="-2.3">/k</tspan><tspan font-size="7.7" dy="2.3">0</tspan></text>
<text transform="translate(306.6,167.3) rotate(-22)" text-anchor="middle" dominant-baseline="central" fill="#262626" stroke="#262626" stroke-width="0.15" font-family="Liberation Sans, sans-serif" font-size="11.4">k<tspan font-size="7.7" dy="2.3">y</tspan><tspan dy="-2.3">/k</tspan><tspan font-size="7.7" dy="2.3">0</tspan></text>
<text x="181" y="33.9" font-family="Liberation Sans, sans-serif" font-weight="bold" font-size="10.7" fill="#000">b</text>
</g>
<g id="pc">
<line x1="362.0" y1="50.3" x2="441.0" y2="21.6" stroke="#e6e6ec" stroke-width="0.6" />
<line x1="362.0" y1="90.8" x2="441.0" y2="62.1" stroke="#e6e6ec" stroke-width="0.6" />
<line x1="401.5" y1="117.0" x2="401.5" y2="36.0" stroke="#e6e6ec" stroke-width="0.6" />
<line x1="441.0" y1="102.6" x2="441.0" y2="21.6" stroke="#e6e6ec" stroke-width="0.6" />
<line x1="441.0" y1="21.6" x2="502.0" y2="59.6" stroke="#e6e6ec" stroke-width="0.6" />
<line x1="441.0" y1="62.1" x2="502.0" y2="100.1" stroke="#e6e6ec" stroke-width="0.6" />
<line x1="471.5" y1="121.6" x2="471.5" y2="40.6" stroke="#e6e6ec" stroke-width="0.6" />
<line x1="502.0" y1="140.6" x2="502.0" y2="59.6" stroke="#e6e6ec" stroke-width="0.6" />
<line x1="441.0" y1="102.6" x2="502.0" y2="140.6" stroke="#e6e6ec" stroke-width="0.6" />
<line x1="441.0" y1="102.6" x2="362.0" y2="131.3" stroke="#e6e6ec" stroke-width="0.6" />
<line x1="392.5" y1="150.3" x2="471.5" y2="121.6" stroke="#e6e6ec" stroke-width="0.6" />
<line x1="401.5" y1="117.0" x2="462.5" y2="155.0" stroke="#e6e6ec" stroke-width="0.6" />
<line x1="362.0" y1="131.3" x2="363.7" y2="130.7" stroke="#8c8c8c" stroke-width="0.6" />
<line x1="362.0" y1="90.8" x2="363.7" y2="90.2" stroke="#8c8c8c" stroke-width="0.6" />
<line x1="362.0" y1="50.3" x2="363.7" y2="49.7" stroke="#8c8c8c" stroke-width="0.6" />
<line x1="423.0" y1="169.3" x2="424.7" y2="168.7" stroke="#8c8c8c" stroke-width="0.6" />
<line x1="392.5" y1="150.3" x2="394.2" y2="149.7" stroke="#8c8c8c" stroke-width="0.6" />
<line x1="362.0" y1="131.3" x2="363.7" y2="130.7" stroke="#8c8c8c" stroke-width="0.6" />
<line x1="423.0" y1="169.3" x2="421.5" y2="168.3" stroke="#8c8c8c" stroke-width="0.6" />
<line x1="462.5" y1="155.0" x2="461.0" y2="154.0" stroke="#8c8c8c" stroke-width="0.6" />
<line x1="502.0" y1="140.6" x2="500.5" y2="139.6" stroke="#8c8c8c" stroke-width="0.6" />
<line x1="362.0" y1="131.3" x2="362.0" y2="50.3" stroke="#8c8c8c" stroke-width="0.6" />
<line x1="362.0" y1="131.3" x2="423.0" y2="169.3" stroke="#8c8c8c" stroke-width="0.6" />
<line x1="423.0" y1="169.3" x2="502.0" y2="140.6" stroke="#8c8c8c" stroke-width="0.6" />
<polygon points="363.6,68.3 440.5,40.0 501.5,76.6 425.0,105.3" fill="#d9dcea" />
<polygon points="384.2,65.4 403.5,58.2 412.5,60.8 416.4,59.5 417.7,53.0 425.4,47.9 438.3,44.8 455.1,47.9 466.7,55.6 468.0,68.5 480.9,72.4 477.0,77.5 480.9,102.0 473.1,107.2 458.9,109.8 447.3,107.2 439.6,117.5 424.8,124.8 410.0,114.0 400.0,106.5 395.8,100.7 384.2,97.4" fill="url(#ps)" />
<polygon points="416.0,60.0 417.7,53.0 425.4,47.9 438.3,44.8 455.1,47.9 466.7,55.6 468.0,64.0 440.0,67.0 420.0,65.0" fill="url(#pl)" />
<polygon points="384.2,65.4 398.0,61.0 402.0,66.0 402.0,92.0 384.2,97.0" fill="url(#pv)" />
<polygon points="412.0,62.0 420.0,65.0 440.0,67.0 468.0,64.0 468.0,73.0 412.0,75.0" fill="url(#pv)" />
<polygon points="456.0,75.0 478.0,73.0 480.9,102.0 473.0,107.0 459.0,109.0 456.0,96.0" fill="url(#pv)" />
<polygon points="400.0,96.0 446.0,96.0 447.3,107.2 439.6,117.5 424.8,124.8 410.0,114.0 400.0,106.5" fill="url(#pl)" />
<polygon points="383.5,96.8 397.4,74.8 482.0,72.5 449.5,95.6" fill="url(#pm)" />
<polygon points="399.0,76.0 413.0,75.0 452.0,95.0 441.0,98.5" fill="url(#pd)" />
<rect x="429.5" y="73.2" width="8.6" height="5.6" rx="2" fill="none" stroke="#1d3566" stroke-width="1.1" transform="rotate(-35 433.8 76)"/>
<line x1="430.6" y1="79.0" x2="430.6" y2="131.0" stroke="#303030" stroke-width="0.85" stroke-dasharray="2.6 1.6"/>
<line x1="435.9" y1="79.0" x2="435.9" y2="133.0" stroke="#303030" stroke-width="0.85" stroke-dasharray="2.6 1.6"/>
<rect x="428.9" y="130.2" width="8.0" height="10.8" rx="2" fill="none" stroke="#1f78c8" stroke-width="1.1" transform="rotate(-30 432.9 135.6)"/>
<text x="420" y="154.6" transform="translate(420 154.6) scale(0.93 1) translate(-420 -154.6)" font-family="Liberation Sans, sans-serif" font-weight="bold" font-size="7.9" fill="#111">Elliptical</text>
<text x="374.4" y="54.1" transform="translate(374.4 54.1) scale(0.92 1) translate(-374.4 -54.1)" font-family="Liberation Serif, serif" font-size="9" fill="#111" stroke="#111" stroke-width="0.15"><tspan font-style="italic">θ</tspan> = 60°</text>
<text x="359.6" y="52.0" text-anchor="end" fill="#262626" stroke="#262626" stroke-width="0.15" font-family="Liberation Sans, sans-serif" font-size="8.8">20</text>
<text x="357.6" y="93.2" text-anchor="end" fill="#262626" stroke="#262626" stroke-width="0.15" font-family="Liberation Sans, sans-serif" font-size="8.8">0</text>
<text x="358.9" y="130.0" text-anchor="end" fill="#262626" stroke="#262626" stroke-width="0.15" font-family="Liberation Sans, sans-serif" font-size="8.8">-20</text>
<text transform="translate(348.9,88.6) rotate(-90)" text-anchor="middle" fill="#262626" stroke="#262626" stroke-width="0.15" font-family="Liberation Sans, sans-serif" font-size="11.4">k<tspan font-size="7.7" dy="2.3">z</tspan><tspan dy="-2.3">/k</tspan><tspan font-size="7.7" dy="2.3">0</tspan></text>
<text transform="translate(357.1,136.4) rotate(40)" text-anchor="middle" dominant-baseline="central" fill="#262626" stroke="#262626" stroke-width="0.15" font-family="Liberation Sans, sans-serif" font-size="8.8">20</text>
<text transform="translate(386.6,154.8) rotate(40)" text-anchor="middle" dominant-baseline="central" fill="#262626" stroke="#262626" stroke-width="0.15" font-family="Liberation Sans, sans-serif" font-size="8.8">0</text>
<text transform="translate(416.2,173.9) rotate(40)" text-anchor="middle" dominant-baseline="central" fill="#262626" stroke="#262626" stroke-width="0.15" font-family="Liberation Sans, sans-serif" font-size="8.8">-20</text>
<text transform="translate(438.5,171.2) rotate(-40)" text-anchor="middle" dominant-baseline="central" fill="#262626" stroke="#262626" stroke-width="0.15" font-family="Liberation Sans, sans-serif" font-size="8.8">-20</text>
<text transform="translate(469.4,158.8) rotate(-40)" text-anchor="middle" dominant-baseline="central" fill="#262626" stroke="#262626" stroke-width="0.15" font-family="Liberation Sans, sans-serif" font-size="8.8">0</text>
<text transform="translate(506.8,143.6) rotate(-40)" text-anchor="middle" dominant-baseline="central" fill="#262626" stroke="#262626" stroke-width="0.15" font-family="Liberation Sans, sans-serif" font-size="8.8">20</text>
<text transform="translate(378.1,164.0) rotate(40)" text-anchor="middle" dominant-baseline="central" fill="#262626" stroke="#262626" stroke-width="0.15" font-family="Liberation Sans, sans-serif" font-size="11.4">k<tspan font-size="7.7" dy="2.3">x</tspan><tspan dy="-2.3">/k</tspan><tspan font-size="7.7" dy="2.3">0</tspan></text>
<text transform="translate(477.9,167.3) rotate(-22)" text-anchor="middle" dominant-baseline="central" fill="#262626" stroke="#262626" stroke-width="0.15" font-family="Liberation Sans, sans-serif" font-size="11.4">k<tspan font-size="7.7" dy="2.3">y</tspan><tspan dy="-2.3">/k</tspan><tspan font-size="7.7" dy="2.3">0</tspan></text>
<text x="352.5" y="34.1" font-family="Liberation Sans, sans-serif" font-weight="bold" font-size="10.7" fill="#000">c</text>
</g>
<g id="pd">
<line x1="534.5" y1="50.7" x2="613.5" y2="22.0" stroke="#e6e6ec" stroke-width="0.6" />
<line x1="534.5" y1="91.2" x2="613.5" y2="62.5" stroke="#e6e6ec" stroke-width="0.6" />
<line x1="574.0" y1="117.4" x2="574.0" y2="36.4" stroke="#e6e6ec" stroke-width="0.6" />
<line x1="613.5" y1="103.0" x2="613.5" y2="22.0" stroke="#e6e6ec" stroke-width="0.6" />
<line x1="613.5" y1="22.0" x2="674.5" y2="60.0" stroke="#e6e6ec" stroke-width="0.6" />
<line x1="613.5" y1="62.5" x2="674.5" y2="100.5" stroke="#e6e6ec" stroke-width="0.6" />
<line x1="644.0" y1="122.0" x2="644.0" y2="41.0" stroke="#e6e6ec" stroke-width="0.6" />
<line x1="674.5" y1="141.0" x2="674.5" y2="60.0" stroke="#e6e6ec" stroke-width="0.6" />
<line x1="613.5" y1="103.0" x2="674.5" y2="141.0" stroke="#e6e6ec" stroke-width="0.6" />
<line x1="613.5" y1="103.0" x2="534.5" y2="131.7" stroke="#e6e6ec" stroke-width="0.6" />
<line x1="565.0" y1="150.7" x2="644.0" y2="122.0" stroke="#e6e6ec" stroke-width="0.6" />
<line x1="574.0" y1="117.4" x2="635.0" y2="155.3" stroke="#e6e6ec" stroke-width="0.6" />
<line x1="534.5" y1="131.7" x2="536.2" y2="131.1" stroke="#8c8c8c" stroke-width="0.6" />
<line x1="534.5" y1="91.2" x2="536.2" y2="90.6" stroke="#8c8c8c" stroke-width="0.6" />
<line x1="534.5" y1="50.7" x2="536.2" y2="50.1" stroke="#8c8c8c" stroke-width="0.6" />
<line x1="595.5" y1="169.7" x2="597.2" y2="169.1" stroke="#8c8c8c" stroke-width="0.6" />
<line x1="565.0" y1="150.7" x2="566.7" y2="150.1" stroke="#8c8c8c" stroke-width="0.6" />
<line x1="534.5" y1="131.7" x2="536.2" y2="131.1" stroke="#8c8c8c" stroke-width="0.6" />
<line x1="595.5" y1="169.7" x2="594.0" y2="168.7" stroke="#8c8c8c" stroke-width="0.6" />
<line x1="635.0" y1="155.3" x2="633.5" y2="154.4" stroke="#8c8c8c" stroke-width="0.6" />
<line x1="674.5" y1="141.0" x2="673.0" y2="140.0" stroke="#8c8c8c" stroke-width="0.6" />
<line x1="534.5" y1="131.7" x2="534.5" y2="50.7" stroke="#8c8c8c" stroke-width="0.6" />
<line x1="534.5" y1="131.7" x2="595.5" y2="169.7" stroke="#8c8c8c" stroke-width="0.6" />
<line x1="595.5" y1="169.7" x2="674.5" y2="141.0" stroke="#8c8c8c" stroke-width="0.6" />
<polygon points="536.1,68.7 613.0,40.4 674.0,77.0 597.5,105.7" fill="#d9dcea" />
<polygon points="556.8,65.4 578.7,58.7 587.7,59.5 587.7,53.0 599.3,47.4 610.9,45.3 625.1,49.2 628.9,55.6 628.9,64.6 638.0,62.8 652.9,71.2 636.7,78.2 635.9,82.0 635.9,88.5 636.7,92.1 652.9,104.5 636.7,111.0 622.5,109.8 621.0,114.9 614.8,122.7 601.9,125.5 589.0,121.4 581.2,112.3 580.0,106.0 573.5,107.2 555.8,97.5 571.4,91.1 574.2,85.5 574.2,79.8 571.4,74.8" fill="url(#ps)" />
<polygon points="587.7,53.0 599.3,47.4 610.9,45.3 625.1,49.2 628.9,55.6 628.9,64.6 604.4,62.0 587.7,60.0" fill="url(#pl)" />
<polygon points="587.7,59.0 604.4,61.0 606.0,74.0 604.4,86.0 590.0,94.0 574.2,86.0 574.2,79.8 580.0,72.0" fill="url(#pv)" />
<polygon points="622.0,72.0 635.9,79.7 635.9,90.5 628.0,96.0 622.0,95.0" fill="url(#pv)" />
<polygon points="581.2,88.0 602.0,93.0 602.0,106.0 581.2,106.0" fill="url(#pv)" />
<polygon points="622.0,88.0 628.0,87.0 628.0,106.0 622.0,109.8" fill="url(#pv)" />
<polygon points="581.2,105.0 621.0,105.0 621.0,114.9 614.8,122.7 601.9,125.5 589.0,121.4 581.2,112.3" fill="url(#pl)" />
<polygon points="606.0,73.0 628.9,64.6 638.0,62.8 652.9,71.2 636.7,78.2 625.1,86.0 615.0,84.0" fill="url(#ps)" />
<polygon points="578.8,85.4 604.6,68.7 623.9,81.5 599.4,97.0" fill="url(#pm)" />
<polygon points="587.7,84.5 604.4,74.0 620.0,82.7 601.0,93.0" fill="url(#pd)" />
<rect x="600.4" y="73.2" width="8.0" height="6.8" rx="2" fill="none" stroke="#1d3566" stroke-width="1.1" transform="rotate(-20 604.4 76.6)"/>
<line x1="601.2" y1="80.0" x2="601.2" y2="130.5" stroke="#303030" stroke-width="0.85" stroke-dasharray="2.6 1.6"/>
<line x1="607.7" y1="80.0" x2="607.7" y2="131.0" stroke="#303030" stroke-width="0.85" stroke-dasharray="2.6 1.6"/>
<rect x="599.4" y="130.2" width="9.2" height="9.2" rx="2" fill="none" stroke="#1f78c8" stroke-width="1.1" transform="rotate(-15 604 134.8)"/>
<text x="588" y="154.6" transform="translate(588 154.6) scale(0.93 1) translate(-588 -154.6)" font-family="Liberation Sans, sans-serif" font-weight="bold" font-size="7.9" fill="#111">Elliptical</text>
<text x="543.9" y="53.6" transform="translate(543.9 53.6) scale(0.92 1) translate(-543.9 -53.6)" font-family="Liberation Serif, serif" font-size="9" fill="#111" stroke="#111" stroke-width="0.15"><tspan font-style="italic">θ</tspan> = 90°</text>
<text x="532.1" y="52.4" text-anchor="end" fill="#262626" stroke="#262626" stroke-width="0.15" font-family="Liberation Sans, sans-serif" font-size="8.8">20</text>
<text x="530.1" y="93.6" text-anchor="end" fill="#262626" stroke="#262626" stroke-width="0.15" font-family="Liberation Sans, sans-serif" font-size="8.8">0</text>
<text x="531.4" y="130.2" text-anchor="end" fill="#262626" stroke="#262626" stroke-width="0.15" font-family="Liberation Sans, sans-serif" font-size="8.8">-20</text>
<text transform="translate(521.4,89.0) rotate(-90)" text-anchor="middle" fill="#262626" stroke="#262626" stroke-width="0.15" font-family="Liberation Sans, sans-serif" font-size="11.4">k<tspan font-size="7.7" dy="2.3">z</tspan><tspan dy="-2.3">/k</tspan><tspan font-size="7.7" dy="2.3">0</tspan></text>
<text transform="translate(530.0,136.4) rotate(40)" text-anchor="middle" dominant-baseline="central" fill="#262626" stroke="#262626" stroke-width="0.15" font-family="Liberation Sans, sans-serif" font-size="8.8">20</text>
<text transform="translate(559.5,154.8) rotate(40)" text-anchor="middle" dominant-baseline="central" fill="#262626" stroke="#262626" stroke-width="0.15" font-family="Liberation Sans, sans-serif" font-size="8.8">0</text>
<text transform="translate(589.7,173.9) rotate(40)" text-anchor="middle" dominant-baseline="central" fill="#262626" stroke="#262626" stroke-width="0.15" font-family="Liberation Sans, sans-serif" font-size="8.8">-20</text>
<text transform="translate(612.2,171.6) rotate(-40)" text-anchor="middle" dominant-baseline="central" fill="#262626" stroke="#262626" stroke-width="0.15" font-family="Liberation Sans, sans-serif" font-size="8.8">-20</text>
<text transform="translate(642.3,158.8) rotate(-40)" text-anchor="middle" dominant-baseline="central" fill="#262626" stroke="#262626" stroke-width="0.15" font-family="Liberation Sans, sans-serif" font-size="8.8">0</text>
<text transform="translate(679.7,145.0) rotate(-40)" text-anchor="middle" dominant-baseline="central" fill="#262626" stroke="#262626" stroke-width="0.15" font-family="Liberation Sans, sans-serif" font-size="8.8">20</text>
<text transform="translate(551.0,164.0) rotate(40)" text-anchor="middle" dominant-baseline="central" fill="#262626" stroke="#262626" stroke-width="0.15" font-family="Liberation Sans, sans-serif" font-size="11.4">k<tspan font-size="7.7" dy="2.3">x</tspan><tspan dy="-2.3">/k</tspan><tspan font-size="7.7" dy="2.3">0</tspan></text>
<text transform="translate(650.8,167.3) rotate(-22)" text-anchor="middle" dominant-baseline="central" fill="#262626" stroke="#262626" stroke-width="0.15" font-family="Liberation Sans, sans-serif" font-size="11.4">k<tspan font-size="7.7" dy="2.3">y</tspan><tspan dy="-2.3">/k</tspan><tspan font-size="7.7" dy="2.3">0</tspan></text>
<text x="525" y="33.9" font-family="Liberation Sans, sans-serif" font-weight="bold" font-size="10.7" fill="#000">d</text>
</g>
<g id="pe">
<line x1="21.7" y1="255.7" x2="100.7" y2="227.0" stroke="#e6e6ec" stroke-width="0.6" />
<line x1="21.7" y1="296.2" x2="100.7" y2="267.5" stroke="#e6e6ec" stroke-width="0.6" />
<line x1="61.2" y1="322.4" x2="61.2" y2="241.3" stroke="#e6e6ec" stroke-width="0.6" />
<line x1="100.7" y1="308.0" x2="100.7" y2="227.0" stroke="#e6e6ec" stroke-width="0.6" />
<line x1="100.7" y1="227.0" x2="161.7" y2="265.0" stroke="#e6e6ec" stroke-width="0.6" />
<line x1="100.7" y1="267.5" x2="161.7" y2="305.5" stroke="#e6e6ec" stroke-width="0.6" />
<line x1="131.2" y1="327.0" x2="131.2" y2="246.0" stroke="#e6e6ec" stroke-width="0.6" />
<line x1="161.7" y1="346.0" x2="161.7" y2="265.0" stroke="#e6e6ec" stroke-width="0.6" />
<line x1="100.7" y1="308.0" x2="161.7" y2="346.0" stroke="#e6e6ec" stroke-width="0.6" />
<line x1="100.7" y1="308.0" x2="21.7" y2="336.7" stroke="#e6e6ec" stroke-width="0.6" />
<line x1="52.2" y1="355.7" x2="131.2" y2="327.0" stroke="#e6e6ec" stroke-width="0.6" />
<line x1="61.2" y1="322.4" x2="122.2" y2="360.4" stroke="#e6e6ec" stroke-width="0.6" />
<line x1="21.7" y1="336.7" x2="23.4" y2="336.1" stroke="#8c8c8c" stroke-width="0.6" />
<line x1="21.7" y1="296.2" x2="23.4" y2="295.6" stroke="#8c8c8c" stroke-width="0.6" />
<line x1="21.7" y1="255.7" x2="23.4" y2="255.1" stroke="#8c8c8c" stroke-width="0.6" />
<line x1="82.7" y1="374.7" x2="84.4" y2="374.1" stroke="#8c8c8c" stroke-width="0.6" />
<line x1="52.2" y1="355.7" x2="53.9" y2="355.1" stroke="#8c8c8c" stroke-width="0.6" />
<line x1="21.7" y1="336.7" x2="23.4" y2="336.1" stroke="#8c8c8c" stroke-width="0.6" />
<line x1="82.7" y1="374.7" x2="81.2" y2="373.7" stroke="#8c8c8c" stroke-width="0.6" />
<line x1="122.2" y1="360.4" x2="120.7" y2="359.4" stroke="#8c8c8c" stroke-width="0.6" />
<line x1="161.7" y1="346.0" x2="160.2" y2="345.0" stroke="#8c8c8c" stroke-width="0.6" />
<line x1="21.7" y1="336.7" x2="21.7" y2="255.7" stroke="#8c8c8c" stroke-width="0.6" />
<line x1="21.7" y1="336.7" x2="82.7" y2="374.7" stroke="#8c8c8c" stroke-width="0.6" />
<line x1="82.7" y1="374.7" x2="161.7" y2="346.0" stroke="#8c8c8c" stroke-width="0.6" />
<polygon points="23.3,273.7 100.2,245.4 161.2,282.0 84.7,310.7" fill="#d9dcea" />
<polygon points="35.5,265.1 62.5,265.1 81.9,266.9 94.8,270.8 118.0,263.6 148.9,281.1 108.9,286.2 102.5,288.8 99.9,292.7 101.2,296.6 106.0,295.5 113.4,295.1 119.7,296.5 149.5,315.5 125.7,317.2 105.1,315.9 95.0,317.0 84.5,315.9 34.5,298.3 61.6,297.4 66.0,297.4 70.5,296.6 73.8,294.4 74.9,291.0 73.9,287.8 71.0,285.5 66.0,284.1 59.8,283.0" fill="url(#pse)" />
<polygon points="74.5,288.0 76.0,272.0 86.0,268.0 87.0,300.0 86.0,313.0 78.0,313.0 74.5,296.0" fill="url(#pv)" />
<polygon points="84.0,267.0 93.0,270.0 99.9,290.0 97.0,305.0 90.0,300.0" fill="url(#pm)" />
<polyline points="83.2,266.9 88.0,280.0 93.5,294.0" fill="none" stroke="#1d3566" stroke-width="1.25" stroke-linejoin="round" stroke-linecap="round" />
<polyline points="89.6,266.9 94.0,279.0 99.9,292.7" fill="none" stroke="#1d3566" stroke-width="1.25" stroke-linejoin="round" stroke-linecap="round" />
<line x1="84.5" y1="280.0" x2="84.5" y2="322.0" stroke="#303030" stroke-width="0.85" stroke-dasharray="2.6 1.6"/>
<line x1="88.3" y1="285.0" x2="88.3" y2="335.0" stroke="#303030" stroke-width="0.85" stroke-dasharray="2.6 1.6"/>
<line x1="92.2" y1="290.0" x2="92.2" y2="340.0" stroke="#303030" stroke-width="0.85" stroke-dasharray="2.6 1.6"/>
<line x1="97.3" y1="292.0" x2="97.3" y2="345.0" stroke="#303030" stroke-width="0.85" stroke-dasharray="2.6 1.6"/>
<polyline points="84.4,320.0 88.0,330.3 91.1,340.6 93.2,350.9 94.8,360.0" fill="none" stroke="#c0141c" stroke-width="1.2" stroke-linejoin="round" stroke-linecap="round" />
<polyline points="90.1,320.0 91.7,330.3 94.8,340.6 98.4,350.9 101.5,360.0" fill="none" stroke="#c0141c" stroke-width="1.2" stroke-linejoin="round" stroke-linecap="round" />
<line x1="89.3" y1="329.9" x2="78.4" y2="332.0" stroke="#000" stroke-width="1.7" /><polygon points="74.0,332.9 78.5,329.7 79.4,334.2" fill="#000" />
<line x1="89.3" y1="329.9" x2="100.3" y2="327.7" stroke="#000" stroke-width="1.7" /><polygon points="104.7,326.8 100.2,330.0 99.3,325.5" fill="#000" />
<line x1="94.5" y1="349.4" x2="84.0" y2="352.1" stroke="#000" stroke-width="1.7" /><polygon points="79.7,353.3 83.9,349.8 85.1,354.2" fill="#000" />
<line x1="94.5" y1="349.4" x2="104.9" y2="346.6" stroke="#000" stroke-width="1.7" /><polygon points="109.2,345.4 105.0,348.9 103.8,344.5" fill="#000" />
<text x="115.5" y="349.2" font-family="Liberation Serif, serif" font-style="italic" font-size="9.6" fill="#111" stroke="#111" stroke-width="0.25">V<tspan font-size="7.2" dx="-0.8" dy="2.4">g</tspan></text>
<text x="32.8" y="245.8" transform="translate(32.8 245.8) scale(0.92 1) translate(-32.8 -245.8)" font-family="Liberation Serif, serif" font-size="9" fill="#111" stroke="#111" stroke-width="0.15"><tspan font-style="italic">θ</tspan> = −23°</text>
<text x="31.7" y="256.6" transform="translate(31.7 256.6) scale(0.92 1) translate(-31.7 -256.6)" font-family="Liberation Serif, serif" font-size="9" fill="#111" stroke="#111" stroke-width="0.15"><tspan font-style="italic">β</tspan><tspan font-size="5.8" dy="1.6">1</tspan><tspan dy="-1.6"> = </tspan><tspan font-style="italic">β</tspan><tspan font-size="5.8" dy="1.6">2</tspan><tspan dy="-1.6"> = −45°</tspan></text>
<text x="19.3" y="258.2" text-anchor="end" fill="#262626" stroke="#262626" stroke-width="0.15" font-family="Liberation Sans, sans-serif" font-size="8.8">20</text>
<text x="17.3" y="299.2" text-anchor="end" fill="#262626" stroke="#262626" stroke-width="0.15" font-family="Liberation Sans, sans-serif" font-size="8.8">0</text>
<text x="18.6" y="338.9" text-anchor="end" fill="#262626" stroke="#262626" stroke-width="0.15" font-family="Liberation Sans, sans-serif" font-size="8.8">-20</text>
<text transform="translate(8.6,294.0) rotate(-90)" text-anchor="middle" fill="#262626" stroke="#262626" stroke-width="0.15" font-family="Liberation Sans, sans-serif" font-size="11.4">k<tspan font-size="7.7" dy="2.3">z</tspan><tspan dy="-2.3">/k</tspan><tspan font-size="7.7" dy="2.3">0</tspan></text>
<text transform="translate(15.8,344.7) rotate(40)" text-anchor="middle" dominant-baseline="central" fill="#262626" stroke="#262626" stroke-width="0.15" font-family="Liberation Sans, sans-serif" font-size="8.8">20</text>
<text transform="translate(45.3,363.1) rotate(40)" text-anchor="middle" dominant-baseline="central" fill="#262626" stroke="#262626" stroke-width="0.15" font-family="Liberation Sans, sans-serif" font-size="8.8">0</text>
<text transform="translate(74.2,381.5) rotate(40)" text-anchor="middle" dominant-baseline="central" fill="#262626" stroke="#262626" stroke-width="0.15" font-family="Liberation Sans, sans-serif" font-size="8.8">-20</text>
<text transform="translate(89.3,381.5) rotate(-40)" text-anchor="middle" dominant-baseline="central" fill="#262626" stroke="#262626" stroke-width="0.15" font-family="Liberation Sans, sans-serif" font-size="8.8">-20</text>
<text transform="translate(128.5,367.7) rotate(-40)" text-anchor="middle" dominant-baseline="central" fill="#262626" stroke="#262626" stroke-width="0.15" font-family="Liberation Sans, sans-serif" font-size="8.8">0</text>
<text transform="translate(166.2,348.6) rotate(-40)" text-anchor="middle" dominant-baseline="central" fill="#262626" stroke="#262626" stroke-width="0.15" font-family="Liberation Sans, sans-serif" font-size="8.8">20</text>
<text transform="translate(32.2,371.6) rotate(40)" text-anchor="middle" dominant-baseline="central" fill="#262626" stroke="#262626" stroke-width="0.15" font-family="Liberation Sans, sans-serif" font-size="11.4">k<tspan font-size="7.7" dy="2.3">x</tspan><tspan dy="-2.3">/k</tspan><tspan font-size="7.7" dy="2.3">0</tspan></text>
<text transform="translate(135.3,376.2) rotate(-22)" text-anchor="middle" dominant-baseline="central" fill="#262626" stroke="#262626" stroke-width="0.15" font-family="Liberation Sans, sans-serif" font-size="11.4">k<tspan font-size="7.7" dy="2.3">y</tspan><tspan dy="-2.3">/k</tspan><tspan font-size="7.7" dy="2.3">0</tspan></text>
<text x="10" y="242" font-family="Liberation Sans, sans-serif" font-weight="bold" font-size="10.7" fill="#000">e</text>
</g>
<g id="pf">
<line x1="191.5" y1="258.0" x2="270.5" y2="229.3" stroke="#e6e6ec" stroke-width="0.6" />
<line x1="191.5" y1="298.5" x2="270.5" y2="269.8" stroke="#e6e6ec" stroke-width="0.6" />
<line x1="231.0" y1="324.6" x2="231.0" y2="243.7" stroke="#e6e6ec" stroke-width="0.6" />
<line x1="270.5" y1="310.3" x2="270.5" y2="229.3" stroke="#e6e6ec" stroke-width="0.6" />
<line x1="270.5" y1="229.3" x2="331.5" y2="267.3" stroke="#e6e6ec" stroke-width="0.6" />
<line x1="270.5" y1="269.8" x2="331.5" y2="307.8" stroke="#e6e6ec" stroke-width="0.6" />
<line x1="301.0" y1="329.3" x2="301.0" y2="248.3" stroke="#e6e6ec" stroke-width="0.6" />
<line x1="331.5" y1="348.3" x2="331.5" y2="267.3" stroke="#e6e6ec" stroke-width="0.6" />
<line x1="270.5" y1="310.3" x2="331.5" y2="348.3" stroke="#e6e6ec" stroke-width="0.6" />
<line x1="270.5" y1="310.3" x2="191.5" y2="339.0" stroke="#e6e6ec" stroke-width="0.6" />
<line x1="222.0" y1="358.0" x2="301.0" y2="329.3" stroke="#e6e6ec" stroke-width="0.6" />
<line x1="231.0" y1="324.6" x2="292.0" y2="362.6" stroke="#e6e6ec" stroke-width="0.6" />
<line x1="191.5" y1="339.0" x2="193.2" y2="338.4" stroke="#8c8c8c" stroke-width="0.6" />
<line x1="191.5" y1="298.5" x2="193.2" y2="297.9" stroke="#8c8c8c" stroke-width="0.6" />
<line x1="191.5" y1="258.0" x2="193.2" y2="257.4" stroke="#8c8c8c" stroke-width="0.6" />
<line x1="252.5" y1="377.0" x2="254.2" y2="376.4" stroke="#8c8c8c" stroke-width="0.6" />
<line x1="222.0" y1="358.0" x2="223.7" y2="357.4" stroke="#8c8c8c" stroke-width="0.6" />
<line x1="191.5" y1="339.0" x2="193.2" y2="338.4" stroke="#8c8c8c" stroke-width="0.6" />
<line x1="252.5" y1="377.0" x2="251.0" y2="376.0" stroke="#8c8c8c" stroke-width="0.6" />
<line x1="292.0" y1="362.6" x2="290.5" y2="361.7" stroke="#8c8c8c" stroke-width="0.6" />
<line x1="331.5" y1="348.3" x2="330.0" y2="347.3" stroke="#8c8c8c" stroke-width="0.6" />
<line x1="191.5" y1="339.0" x2="191.5" y2="258.0" stroke="#8c8c8c" stroke-width="0.6" />
<line x1="191.5" y1="339.0" x2="252.5" y2="377.0" stroke="#8c8c8c" stroke-width="0.6" />
<line x1="252.5" y1="377.0" x2="331.5" y2="348.3" stroke="#8c8c8c" stroke-width="0.6" />
<polygon points="193.1,276.0 270.0,247.7 331.0,284.3 254.5,313.0" fill="#d9dcea" />
<polygon points="258.3,247.2 288.0,264.5 284.1,276.1 281.5,290.3 288.0,295.4 286.7,300.6 280.2,304.5 275.1,314.8 270.0,330.0 266.7,334.0 262.2,337.4 233.8,318.1 236.4,309.6 237.7,299.3 233.8,291.6 235.1,282.5 242.8,272.2 249.3,263.2 254.5,252.9" fill="url(#psl)" />
<polygon points="236.0,305.0 260.0,307.0 277.0,306.0 275.1,314.8 270.0,330.0 266.7,334.0 262.2,337.4 233.8,318.1" fill="url(#pl)" />
<polygon points="243.0,272.0 280.0,280.0 281.0,284.0 243.0,276.0" fill="url(#pv)" />
<polygon points="235.1,282.5 244.1,276.1 280.2,285.1 288.0,295.4 286.7,301.9 277.7,305.7 257.0,307.0 241.6,303.2 235.1,300.6" fill="url(#pm)" />
<polyline points="244.1,278.2 262.0,281.5 281.5,289.0" fill="none" stroke="#1d3566" stroke-width="1.25" stroke-linejoin="round" stroke-linecap="round" />
<polyline points="246.7,273.0 262.0,275.5 280.2,281.2" fill="none" stroke="#1d3566" stroke-width="1.25" stroke-linejoin="round" stroke-linecap="round" />
<line x1="244.1" y1="278.0" x2="244.1" y2="338.0" stroke="#303030" stroke-width="0.85" stroke-dasharray="2.6 1.6"/>
<line x1="248.0" y1="274.0" x2="248.0" y2="336.0" stroke="#303030" stroke-width="0.85" stroke-dasharray="2.6 1.6"/>
<line x1="272.5" y1="282.0" x2="272.5" y2="343.0" stroke="#303030" stroke-width="0.85" stroke-dasharray="2.6 1.6"/>
<line x1="279.0" y1="284.0" x2="279.0" y2="345.0" stroke="#303030" stroke-width="0.85" stroke-dasharray="2.6 1.6"/>
<polyline points="238.4,331.8 255.4,336.3 273.5,340.8 290.5,346.5" fill="none" stroke="#c0141c" stroke-width="1.35" stroke-linejoin="round" stroke-linecap="round" />
<polyline points="235.0,338.6 255.4,340.8 271.3,345.4 284.9,354.4" fill="none" stroke="#c0141c" stroke-width="1.35" stroke-linejoin="round" stroke-linecap="round" />
<line x1="248.6" y1="338.0" x2="251.0" y2="328.2" stroke="#000" stroke-width="1.7" /><polygon points="252.0,323.8 253.1,329.2 248.6,328.1" fill="#000" />
<line x1="248.6" y1="338.0" x2="246.2" y2="347.8" stroke="#000" stroke-width="1.7" /><polygon points="245.2,352.2 244.1,346.8 248.6,347.9" fill="#000" />
<line x1="273.1" y1="344.8" x2="275.8" y2="333.9" stroke="#000" stroke-width="1.7" /><polygon points="276.9,329.5 277.9,334.9 273.5,333.8" fill="#000" />
<line x1="273.1" y1="344.8" x2="270.5" y2="355.7" stroke="#000" stroke-width="1.7" /><polygon points="269.4,360.1 268.4,354.7 272.8,355.8" fill="#000" />
<text x="282.1" y="337.4" font-family="Liberation Serif, serif" font-style="italic" font-size="9.6" fill="#111" stroke="#111" stroke-width="0.25">V<tspan font-size="7.2" dx="-0.8" dy="2.4">g</tspan></text>
<text x="201.7" y="247.4" transform="translate(201.7 247.4) scale(0.92 1) translate(-201.7 -247.4)" font-family="Liberation Serif, serif" font-size="9" fill="#111" stroke="#111" stroke-width="0.15"><tspan font-style="italic">θ</tspan> = 23°</text>
<text x="200.1" y="258.2" transform="translate(200.1 258.2) scale(0.92 1) translate(-200.1 -258.2)" font-family="Liberation Serif, serif" font-size="9" fill="#111" stroke="#111" stroke-width="0.15"><tspan font-style="italic">β</tspan><tspan font-size="5.8" dy="1.6">1</tspan><tspan dy="-1.6"> = </tspan><tspan font-style="italic">β</tspan><tspan font-size="5.8" dy="1.6">2</tspan><tspan dy="-1.6"> = 45°</tspan></text>
<text x="189.1" y="260.5" text-anchor="end" fill="#262626" stroke="#262626" stroke-width="0.15" font-family="Liberation Sans, sans-serif" font-size="8.8">20</text>
<text x="187.1" y="301.5" text-anchor="end" fill="#262626" stroke="#262626" stroke-width="0.15" font-family="Liberation Sans, sans-serif" font-size="8.8">0</text>
<text x="188.4" y="341.3" text-anchor="end" fill="#262626" stroke="#262626" stroke-width="0.15" font-family="Liberation Sans, sans-serif" font-size="8.8">-20</text>
<text transform="translate(178.4,296.3) rotate(-90)" text-anchor="middle" fill="#262626" stroke="#262626" stroke-width="0.15" font-family="Liberation Sans, sans-serif" font-size="11.4">k<tspan font-size="7.7" dy="2.3">z</tspan><tspan dy="-2.3">/k</tspan><tspan font-size="7.7" dy="2.3">0</tspan></text>
<text transform="translate(187.1,346.7) rotate(40)" text-anchor="middle" dominant-baseline="central" fill="#262626" stroke="#262626" stroke-width="0.15" font-family="Liberation Sans, sans-serif" font-size="8.8">20</text>
<text transform="translate(215.3,363.8) rotate(40)" text-anchor="middle" dominant-baseline="central" fill="#262626" stroke="#262626" stroke-width="0.15" font-family="Liberation Sans, sans-serif" font-size="8.8">0</text>
<text transform="translate(244.9,381.5) rotate(40)" text-anchor="middle" dominant-baseline="central" fill="#262626" stroke="#262626" stroke-width="0.15" font-family="Liberation Sans, sans-serif" font-size="8.8">-20</text>
<text transform="translate(260.6,381.5) rotate(-40)" text-anchor="middle" dominant-baseline="central" fill="#262626" stroke="#262626" stroke-width="0.15" font-family="Liberation Sans, sans-serif" font-size="8.8">-20</text>
<text transform="translate(296.8,367.7) rotate(-40)" text-anchor="middle" dominant-baseline="central" fill="#262626" stroke="#262626" stroke-width="0.15" font-family="Liberation Sans, sans-serif" font-size="8.8">0</text>
<text transform="translate(335.5,352.6) rotate(-40)" text-anchor="middle" dominant-baseline="central" fill="#262626" stroke="#262626" stroke-width="0.15" font-family="Liberation Sans, sans-serif" font-size="8.8">20</text>
<text transform="translate(206.8,371.0) rotate(40)" text-anchor="middle" dominant-baseline="central" fill="#262626" stroke="#262626" stroke-width="0.15" font-family="Liberation Sans, sans-serif" font-size="11.4">k<tspan font-size="7.7" dy="2.3">x</tspan><tspan dy="-2.3">/k</tspan><tspan font-size="7.7" dy="2.3">0</tspan></text>
<text transform="translate(306.6,376.9) rotate(-22)" text-anchor="middle" dominant-baseline="central" fill="#262626" stroke="#262626" stroke-width="0.15" font-family="Liberation Sans, sans-serif" font-size="11.4">k<tspan font-size="7.7" dy="2.3">y</tspan><tspan dy="-2.3">/k</tspan><tspan font-size="7.7" dy="2.3">0</tspan></text>
<text x="180.6" y="241.7" font-family="Liberation Sans, sans-serif" font-weight="bold" font-size="10.7" fill="#000">f</text>
</g>
<g id="pg">
<line x1="363.6" y1="258.8" x2="442.6" y2="230.1" stroke="#e6e6ec" stroke-width="0.6" />
<line x1="363.6" y1="299.3" x2="442.6" y2="270.6" stroke="#e6e6ec" stroke-width="0.6" />
<line x1="403.1" y1="325.5" x2="403.1" y2="244.5" stroke="#e6e6ec" stroke-width="0.6" />
<line x1="442.6" y1="311.1" x2="442.6" y2="230.1" stroke="#e6e6ec" stroke-width="0.6" />
<line x1="442.6" y1="230.1" x2="503.6" y2="268.1" stroke="#e6e6ec" stroke-width="0.6" />
<line x1="442.6" y1="270.6" x2="503.6" y2="308.6" stroke="#e6e6ec" stroke-width="0.6" />
<line x1="473.1" y1="330.1" x2="473.1" y2="249.1" stroke="#e6e6ec" stroke-width="0.6" />
<line x1="503.6" y1="349.1" x2="503.6" y2="268.1" stroke="#e6e6ec" stroke-width="0.6" />
<line x1="442.6" y1="311.1" x2="503.6" y2="349.1" stroke="#e6e6ec" stroke-width="0.6" />
<line x1="442.6" y1="311.1" x2="363.6" y2="339.8" stroke="#e6e6ec" stroke-width="0.6" />
<line x1="394.1" y1="358.8" x2="473.1" y2="330.1" stroke="#e6e6ec" stroke-width="0.6" />
<line x1="403.1" y1="325.5" x2="464.1" y2="363.5" stroke="#e6e6ec" stroke-width="0.6" />
<line x1="363.6" y1="339.8" x2="365.3" y2="339.2" stroke="#8c8c8c" stroke-width="0.6" />
<line x1="363.6" y1="299.3" x2="365.3" y2="298.7" stroke="#8c8c8c" stroke-width="0.6" />
<line x1="363.6" y1="258.8" x2="365.3" y2="258.2" stroke="#8c8c8c" stroke-width="0.6" />
<line x1="424.6" y1="377.8" x2="426.3" y2="377.2" stroke="#8c8c8c" stroke-width="0.6" />
<line x1="394.1" y1="358.8" x2="395.8" y2="358.2" stroke="#8c8c8c" stroke-width="0.6" />
<line x1="363.6" y1="339.8" x2="365.3" y2="339.2" stroke="#8c8c8c" stroke-width="0.6" />
<line x1="424.6" y1="377.8" x2="423.1" y2="376.8" stroke="#8c8c8c" stroke-width="0.6" />
<line x1="464.1" y1="363.5" x2="462.6" y2="362.5" stroke="#8c8c8c" stroke-width="0.6" />
<line x1="503.6" y1="349.1" x2="502.1" y2="348.1" stroke="#8c8c8c" stroke-width="0.6" />
<line x1="363.6" y1="339.8" x2="363.6" y2="258.8" stroke="#8c8c8c" stroke-width="0.6" />
<line x1="363.6" y1="339.8" x2="424.6" y2="377.8" stroke="#8c8c8c" stroke-width="0.6" />
<line x1="424.6" y1="377.8" x2="503.6" y2="349.1" stroke="#8c8c8c" stroke-width="0.6" />
<polygon points="365.2,276.8 442.1,248.5 503.1,285.1 426.6,313.8" fill="#b9c0dc" />
<polygon points="426.0,285.0 418.0,283.5 412.0,287.0 409.5,296.0 411.5,304.0 418.0,309.5 426.0,312.0" fill="url(#pb)" />
<polygon points="433.5,285.0 445.0,286.0 452.0,290.0 455.0,300.0 453.0,310.0 446.0,316.0 434.0,317.0" fill="url(#pb)" />
<polygon points="377.4,261.0 396.0,267.4 408.3,272.0 420.7,276.4 426.1,279.2 428.8,282.5 427.5,286.5 424.0,287.0 420.7,283.6 408.3,279.5 396.0,272.5 378.1,263.3" fill="#10a5a8" />
<polygon points="376.7,290.2 398.6,298.7 419.2,306.4 426.0,309.0 428.0,313.0 424.4,315.0 410.0,309.5 398.6,303.3 377.5,291.6" fill="#10a5a8" />
<polygon points="434.5,285.0 445.0,285.5 452.1,286.3 460.0,289.5 470.1,295.3 480.0,301.5 490.9,307.9 480.0,305.0 470.1,301.6 461.1,298.9 452.1,295.8 445.0,294.0 435.0,293.0" fill="#10a5a8" />
<polygon points="435.5,310.5 448.5,311.5 460.0,318.0 475.0,327.0 490.9,335.9 475.0,332.0 461.1,327.8 450.0,322.0 437.6,317.0" fill="#10a5a8" />
<polygon points="424.4,279.0 432.9,279.0 433.5,285.0 433.5,314.0 429.0,316.0 424.4,314.0" fill="url(#pbd)" />
<polyline points="422.8,278.1 428.0,283.5 423.6,289.7" fill="none" stroke="#1d3566" stroke-width="1.25" stroke-linejoin="round" stroke-linecap="round" />
<line x1="425.6" y1="282.0" x2="425.6" y2="345.0" stroke="#303030" stroke-width="0.85" stroke-dasharray="2.6 1.6"/>
<line x1="427.1" y1="282.0" x2="427.1" y2="345.0" stroke="#303030" stroke-width="0.85" stroke-dasharray="2.6 1.6"/>
<line x1="428.6" y1="282.0" x2="428.6" y2="340.0" stroke="#303030" stroke-width="0.85" stroke-dasharray="2.6 1.6"/>
<line x1="434.6" y1="286.0" x2="434.6" y2="342.0" stroke="#303030" stroke-width="0.85" stroke-dasharray="2.6 1.6"/>
<polyline points="422.0,325.0 425.4,331.7 427.6,340.8 428.1,349.9 427.6,359.0 426.9,364.6" fill="none" stroke="#c0141c" stroke-width="1.35" stroke-linejoin="round" stroke-linecap="round" />
<polyline points="434.4,339.7 434.4,343.1" fill="none" stroke="#c0141c" stroke-width="1.35" stroke-linejoin="round" stroke-linecap="round" />
<line x1="423.1" y1="331.7" x2="413.9" y2="333.2" stroke="#000" stroke-width="1.7" /><polygon points="409.5,334.0 414.0,330.9 414.8,335.4" fill="#000" />
<line x1="428.1" y1="356.7" x2="416.2" y2="357.0" stroke="#000" stroke-width="1.7" /><polygon points="411.7,357.1 416.6,354.7 416.8,359.3" fill="#000" />
<text x="398.8" y="336.2" font-family="Liberation Serif, serif" font-style="italic" font-size="9.6" fill="#111" stroke="#111" stroke-width="0.25">V<tspan font-size="7.2" dx="-0.8" dy="2.4">g</tspan></text>
<text x="376.1" y="247.5" transform="translate(376.1 247.5) scale(0.92 1) translate(-376.1 -247.5)" font-family="Liberation Serif, serif" font-size="9" fill="#111" stroke="#111" stroke-width="0.15"><tspan font-style="italic">γ</tspan> = −20°</text>
<text x="375.5" y="256.9" transform="translate(375.5 256.9) scale(0.92 1) translate(-375.5 -256.9)" font-family="Liberation Serif, serif" font-size="9" fill="#111" stroke="#111" stroke-width="0.15"><tspan font-style="italic">θ</tspan> = −23°</text>
<text x="374.9" y="266.2" transform="translate(374.9 266.2) scale(0.92 1) translate(-374.9 -266.2)" font-family="Liberation Serif, serif" font-size="9" fill="#111" stroke="#111" stroke-width="0.15"><tspan font-style="italic">β</tspan><tspan font-size="5.8" dy="1.6">1</tspan><tspan dy="-1.6"> = </tspan><tspan font-style="italic">β</tspan><tspan font-size="5.8" dy="1.6">2</tspan><tspan dy="-1.6"> = −45°</tspan></text>
<text x="361.2" y="261.8" text-anchor="end" fill="#262626" stroke="#262626" stroke-width="0.15" font-family="Liberation Sans, sans-serif" font-size="8.8">20</text>
<text x="359.2" y="302.3" text-anchor="end" fill="#262626" stroke="#262626" stroke-width="0.15" font-family="Liberation Sans, sans-serif" font-size="8.8">0</text>
<text x="360.5" y="338.1" text-anchor="end" fill="#262626" stroke="#262626" stroke-width="0.15" font-family="Liberation Sans, sans-serif" font-size="8.8">-20</text>
<text transform="translate(350.5,297.1) rotate(-90)" text-anchor="middle" fill="#262626" stroke="#262626" stroke-width="0.15" font-family="Liberation Sans, sans-serif" font-size="11.4">k<tspan font-size="7.7" dy="2.3">z</tspan><tspan dy="-2.3">/k</tspan><tspan font-size="7.7" dy="2.3">0</tspan></text>
<text transform="translate(357.1,346.0) rotate(40)" text-anchor="middle" dominant-baseline="central" fill="#262626" stroke="#262626" stroke-width="0.15" font-family="Liberation Sans, sans-serif" font-size="8.8">20</text>
<text transform="translate(385.3,363.8) rotate(40)" text-anchor="middle" dominant-baseline="central" fill="#262626" stroke="#262626" stroke-width="0.15" font-family="Liberation Sans, sans-serif" font-size="8.8">0</text>
<text transform="translate(414.9,381.5) rotate(40)" text-anchor="middle" dominant-baseline="central" fill="#262626" stroke="#262626" stroke-width="0.15" font-family="Liberation Sans, sans-serif" font-size="8.8">-20</text>
<text transform="translate(430.6,382.8) rotate(-40)" text-anchor="middle" dominant-baseline="central" fill="#262626" stroke="#262626" stroke-width="0.15" font-family="Liberation Sans, sans-serif" font-size="8.8">-20</text>
<text transform="translate(469.4,367.7) rotate(-40)" text-anchor="middle" dominant-baseline="central" fill="#262626" stroke="#262626" stroke-width="0.15" font-family="Liberation Sans, sans-serif" font-size="8.8">0</text>
<text transform="translate(508.2,352.6) rotate(-40)" text-anchor="middle" dominant-baseline="central" fill="#262626" stroke="#262626" stroke-width="0.15" font-family="Liberation Sans, sans-serif" font-size="8.8">20</text>
<text transform="translate(378.1,371.0) rotate(40)" text-anchor="middle" dominant-baseline="central" fill="#262626" stroke="#262626" stroke-width="0.15" font-family="Liberation Sans, sans-serif" font-size="11.4">k<tspan font-size="7.7" dy="2.3">x</tspan><tspan dy="-2.3">/k</tspan><tspan font-size="7.7" dy="2.3">0</tspan></text>
<text transform="translate(476.6,376.9) rotate(-22)" text-anchor="middle" dominant-baseline="central" fill="#262626" stroke="#262626" stroke-width="0.15" font-family="Liberation Sans, sans-serif" font-size="11.4">k<tspan font-size="7.7" dy="2.3">y</tspan><tspan dy="-2.3">/k</tspan><tspan font-size="7.7" dy="2.3">0</tspan></text>
<text x="355" y="240.2" font-family="Liberation Sans, sans-serif" font-weight="bold" font-size="10.7" fill="#000">g</text>
</g>
<g id="ph">
<line x1="534.5" y1="257.8" x2="613.5" y2="229.1" stroke="#e6e6ec" stroke-width="0.6" />
<line x1="534.5" y1="298.3" x2="613.5" y2="269.6" stroke="#e6e6ec" stroke-width="0.6" />
<line x1="574.0" y1="324.5" x2="574.0" y2="243.5" stroke="#e6e6ec" stroke-width="0.6" />
<line x1="613.5" y1="310.1" x2="613.5" y2="229.1" stroke="#e6e6ec" stroke-width="0.6" />
<line x1="613.5" y1="229.1" x2="674.5" y2="267.1" stroke="#e6e6ec" stroke-width="0.6" />
<line x1="613.5" y1="269.6" x2="674.5" y2="307.6" stroke="#e6e6ec" stroke-width="0.6" />
<line x1="644.0" y1="329.1" x2="644.0" y2="248.1" stroke="#e6e6ec" stroke-width="0.6" />
<line x1="674.5" y1="348.1" x2="674.5" y2="267.1" stroke="#e6e6ec" stroke-width="0.6" />
<line x1="613.5" y1="310.1" x2="674.5" y2="348.1" stroke="#e6e6ec" stroke-width="0.6" />
<line x1="613.5" y1="310.1" x2="534.5" y2="338.8" stroke="#e6e6ec" stroke-width="0.6" />
<line x1="565.0" y1="357.8" x2="644.0" y2="329.1" stroke="#e6e6ec" stroke-width="0.6" />
<line x1="574.0" y1="324.5" x2="635.0" y2="362.5" stroke="#e6e6ec" stroke-width="0.6" />
<line x1="534.5" y1="338.8" x2="536.2" y2="338.2" stroke="#8c8c8c" stroke-width="0.6" />
<line x1="534.5" y1="298.3" x2="536.2" y2="297.7" stroke="#8c8c8c" stroke-width="0.6" />
<line x1="534.5" y1="257.8" x2="536.2" y2="257.2" stroke="#8c8c8c" stroke-width="0.6" />
<line x1="595.5" y1="376.8" x2="597.2" y2="376.2" stroke="#8c8c8c" stroke-width="0.6" />
<line x1="565.0" y1="357.8" x2="566.7" y2="357.2" stroke="#8c8c8c" stroke-width="0.6" />
<line x1="534.5" y1="338.8" x2="536.2" y2="338.2" stroke="#8c8c8c" stroke-width="0.6" />
<line x1="595.5" y1="376.8" x2="594.0" y2="375.8" stroke="#8c8c8c" stroke-width="0.6" />
<line x1="635.0" y1="362.5" x2="633.5" y2="361.5" stroke="#8c8c8c" stroke-width="0.6" />
<line x1="674.5" y1="348.1" x2="673.0" y2="347.1" stroke="#8c8c8c" stroke-width="0.6" />
<line x1="534.5" y1="338.8" x2="534.5" y2="257.8" stroke="#8c8c8c" stroke-width="0.6" />
<line x1="534.5" y1="338.8" x2="595.5" y2="376.8" stroke="#8c8c8c" stroke-width="0.6" />
<line x1="595.5" y1="376.8" x2="674.5" y2="348.1" stroke="#8c8c8c" stroke-width="0.6" />
<polygon points="536.1,275.8 613.0,247.5 674.0,284.1 597.5,312.8" fill="#b9c0dc" />
<polygon points="601.6,239.3 632.6,259.0 627.0,283.3 631.0,290.0 627.0,299.5 623.0,305.2 619.0,318.0 614.0,333.0 606.7,356.2 577.7,336.7 584.0,302.6 578.3,307.6 582.3,294.1 586.4,280.6 591.6,269.0 595.5,258.2" fill="url(#pl)" />
<clipPath id="c1"><polygon points="536.1,275.8 613.0,247.5 674.0,284.1 597.5,312.8" fill="#000" /></clipPath>
<polygon points="601.6,239.3 632.6,259.0 627.0,283.3 631.0,290.0 627.0,299.5 623.0,305.2 619.0,318.0 614.0,333.0 606.7,356.2 577.7,336.7 584.0,302.6 578.3,307.6 582.3,294.1 586.4,280.6 591.6,269.0 595.5,258.2" fill="url(#pho)" clip-path="url(#c1)"/>
<clipPath id="c2"><polygon points="536.1,275.8 613.0,247.5 674.0,284.1 597.5,312.8" fill="#000" /></clipPath>
<polygon points="592.0,272.0 600.0,275.0 607.8,279.5 615.6,281.0 628.0,282.0 629.0,290.0 594.0,290.0" fill="url(#pb)" clip-path="url(#c2)"/>
<clipPath id="c3"><polygon points="536.1,275.8 613.0,247.5 674.0,284.1 597.5,312.8" fill="#000" /></clipPath>
<polygon points="580.0,289.0 600.0,288.0 629.0,289.0 632.0,295.0 628.0,302.0 616.0,308.0 600.0,312.0 582.0,308.0" fill="url(#pbd)" clip-path="url(#c3)"/>
<polyline points="591.6,269.8 600.1,274.4 607.8,279.1 615.6,280.6 626.4,281.1" fill="none" stroke="#1d3566" stroke-width="1.25" stroke-linejoin="round" stroke-linecap="round" />
<line x1="592.8" y1="272.0" x2="592.8" y2="334.0" stroke="#303030" stroke-width="0.85" stroke-dasharray="2.6 1.6"/>
<line x1="601.7" y1="286.0" x2="601.7" y2="340.0" stroke="#303030" stroke-width="0.85" stroke-dasharray="2.6 1.6"/>
<line x1="621.9" y1="281.0" x2="621.9" y2="343.0" stroke="#303030" stroke-width="0.85" stroke-dasharray="2.6 1.6"/>
<polyline points="586.5,329.1 595.4,334.2 605.5,339.2 615.6,343.0 625.7,344.3" fill="none" stroke="#c0141c" stroke-width="1.35" stroke-linejoin="round" stroke-linecap="round" />
<polyline points="600.4,343.0 600.4,344.3" fill="none" stroke="#c0141c" stroke-width="1.35" stroke-linejoin="round" stroke-linecap="round" />
<line x1="594.1" y1="335.5" x2="598.2" y2="328.0" stroke="#000" stroke-width="1.7" /><polygon points="600.4,324.1 600.0,329.6 596.0,327.4" fill="#000" />
<line x1="613.0" y1="341.8" x2="617.1" y2="334.3" stroke="#000" stroke-width="1.7" /><polygon points="619.3,330.4 618.9,335.9 614.9,333.7" fill="#000" />
<text x="626.4" y="336.9" font-family="Liberation Serif, serif" font-style="italic" font-size="9.6" fill="#111" stroke="#111" stroke-width="0.25">V<tspan font-size="7.2" dx="-0.8" dy="2.4">g</tspan></text>
<text x="543.2" y="248.2" transform="translate(543.2 248.2) scale(0.92 1) translate(-543.2 -248.2)" font-family="Liberation Serif, serif" font-size="9" fill="#111" stroke="#111" stroke-width="0.15"><tspan font-style="italic">γ</tspan> = 20°</text>
<text x="543.2" y="257.5" transform="translate(543.2 257.5) scale(0.92 1) translate(-543.2 -257.5)" font-family="Liberation Serif, serif" font-size="9" fill="#111" stroke="#111" stroke-width="0.15"><tspan font-style="italic">θ</tspan> = 23°</text>
<text x="542.5" y="266.4" transform="translate(542.5 266.4) scale(0.92 1) translate(-542.5 -266.4)" font-family="Liberation Serif, serif" font-size="9" fill="#111" stroke="#111" stroke-width="0.15"><tspan font-style="italic">β</tspan><tspan font-size="5.8" dy="1.6">1</tspan><tspan dy="-1.6"> = </tspan><tspan font-style="italic">β</tspan><tspan font-size="5.8" dy="1.6">2</tspan><tspan dy="-1.6"> = 45°</tspan></text>
<text x="532.1" y="260.2" text-anchor="end" fill="#262626" stroke="#262626" stroke-width="0.15" font-family="Liberation Sans, sans-serif" font-size="8.8">20</text>
<text x="530.1" y="300.9" text-anchor="end" fill="#262626" stroke="#262626" stroke-width="0.15" font-family="Liberation Sans, sans-serif" font-size="8.8">0</text>
<text x="531.4" y="338.1" text-anchor="end" fill="#262626" stroke="#262626" stroke-width="0.15" font-family="Liberation Sans, sans-serif" font-size="8.8">-20</text>
<text transform="translate(521.4,296.1) rotate(-90)" text-anchor="middle" fill="#262626" stroke="#262626" stroke-width="0.15" font-family="Liberation Sans, sans-serif" font-size="11.4">k<tspan font-size="7.7" dy="2.3">z</tspan><tspan dy="-2.3">/k</tspan><tspan font-size="7.7" dy="2.3">0</tspan></text>
<text transform="translate(530.0,346.0) rotate(40)" text-anchor="middle" dominant-baseline="central" fill="#262626" stroke="#262626" stroke-width="0.15" font-family="Liberation Sans, sans-serif" font-size="8.8">20</text>
<text transform="translate(558.2,362.4) rotate(40)" text-anchor="middle" dominant-baseline="central" fill="#262626" stroke="#262626" stroke-width="0.15" font-family="Liberation Sans, sans-serif" font-size="8.8">0</text>
<text transform="translate(588.4,380.2) rotate(40)" text-anchor="middle" dominant-baseline="central" fill="#262626" stroke="#262626" stroke-width="0.15" font-family="Liberation Sans, sans-serif" font-size="8.8">-20</text>
<text transform="translate(604.2,381.5) rotate(-40)" text-anchor="middle" dominant-baseline="central" fill="#262626" stroke="#262626" stroke-width="0.15" font-family="Liberation Sans, sans-serif" font-size="8.8">-20</text>
<text transform="translate(641.0,367.7) rotate(-40)" text-anchor="middle" dominant-baseline="central" fill="#262626" stroke="#262626" stroke-width="0.15" font-family="Liberation Sans, sans-serif" font-size="8.8">0</text>
<text transform="translate(678.4,351.3) rotate(-40)" text-anchor="middle" dominant-baseline="central" fill="#262626" stroke="#262626" stroke-width="0.15" font-family="Liberation Sans, sans-serif" font-size="8.8">20</text>
<text transform="translate(551.0,371.0) rotate(40)" text-anchor="middle" dominant-baseline="central" fill="#262626" stroke="#262626" stroke-width="0.15" font-family="Liberation Sans, sans-serif" font-size="11.4">k<tspan font-size="7.7" dy="2.3">x</tspan><tspan dy="-2.3">/k</tspan><tspan font-size="7.7" dy="2.3">0</tspan></text>
<text transform="translate(649.5,376.2) rotate(-22)" text-anchor="middle" dominant-baseline="central" fill="#262626" stroke="#262626" stroke-width="0.15" font-family="Liberation Sans, sans-serif" font-size="11.4">k<tspan font-size="7.7" dy="2.3">y</tspan><tspan dy="-2.3">/k</tspan><tspan font-size="7.7" dy="2.3">0</tspan></text>
<text x="527.3" y="240.5" font-family="Liberation Sans, sans-serif" font-weight="bold" font-size="10.7" fill="#000">h</text>
</g>
</svg>
</body></html>
